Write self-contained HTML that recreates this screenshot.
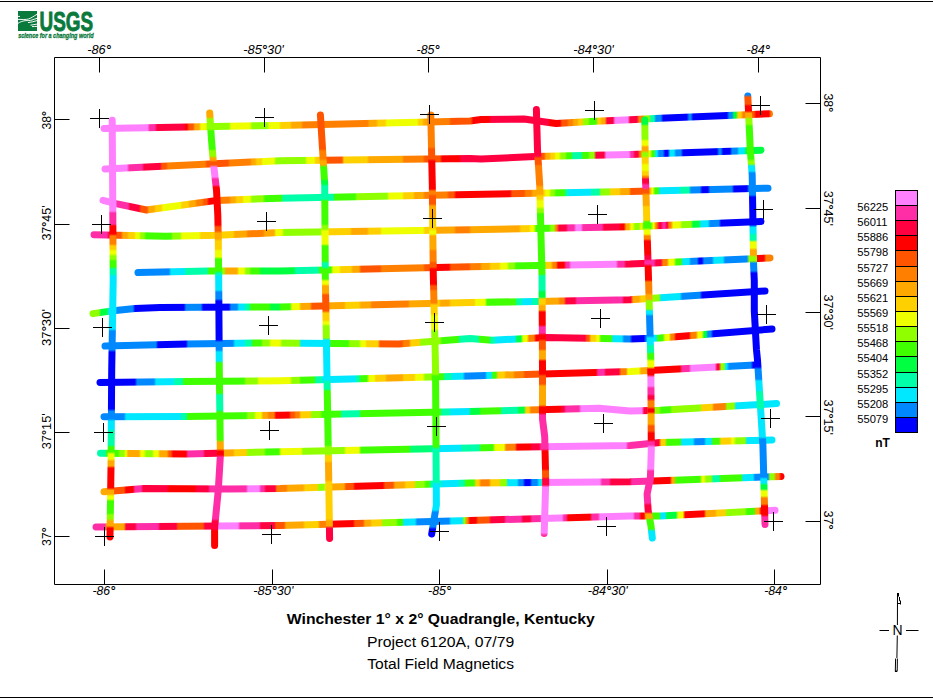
<!DOCTYPE html>
<html><head><meta charset="utf-8"><title>Winchester 1° x 2° Quadrangle, Kentucky - Total Field Magnetics</title>
<style>
html,body{margin:0;padding:0;background:#fff;}
body{width:933px;height:699px;overflow:hidden;}
svg{display:block;}
.ax{font-family:"Liberation Sans",Arial,sans-serif;font-size:12.5px;fill:#000;}
.it{font-style:italic;}
.lg{font-family:"Liberation Sans",Arial,sans-serif;font-size:11.2px;fill:#000;}
.nt{font-family:"Liberation Sans",Arial,sans-serif;font-size:12px;font-weight:bold;fill:#000;}
.t1{font-family:"Liberation Sans",Arial,sans-serif;font-size:15px;font-weight:bold;fill:#000;}
.t2{font-family:"Liberation Sans",Arial,sans-serif;font-size:15.5px;fill:#000;}
.nn{font-family:"Liberation Sans",Arial,sans-serif;font-size:14px;fill:#000;}
</style></head><body>
<svg width="933" height="699" viewBox="0 0 933 699">
<defs><linearGradient id="gH1" gradientUnits="userSpaceOnUse" x1="100.0" y1="0" x2="774.0" y2="0"><stop offset="0.0000" stop-color="#FF80FF"/><stop offset="0.0703" stop-color="#FF80FF"/><stop offset="0.0739" stop-color="#FF2EA6"/><stop offset="0.0813" stop-color="#FF2EA6"/><stop offset="0.0849" stop-color="#FF0040"/><stop offset="0.1243" stop-color="#FF0040"/><stop offset="0.1279" stop-color="#FF0000"/><stop offset="0.1288" stop-color="#FF0000"/><stop offset="0.1323" stop-color="#FF5500"/><stop offset="0.1377" stop-color="#FF5500"/><stop offset="0.1412" stop-color="#FFA800"/><stop offset="0.1466" stop-color="#FFA800"/><stop offset="0.1501" stop-color="#EEFF00"/><stop offset="0.1570" stop-color="#EEFF00"/><stop offset="0.1605" stop-color="#90FF00"/><stop offset="0.1911" stop-color="#90FF00"/><stop offset="0.1947" stop-color="#EEFF00"/><stop offset="0.2223" stop-color="#EEFF00"/><stop offset="0.2258" stop-color="#90FF00"/><stop offset="0.2475" stop-color="#90FF00"/><stop offset="0.2510" stop-color="#EEFF00"/><stop offset="0.2653" stop-color="#EEFF00"/><stop offset="0.2688" stop-color="#FFD000"/><stop offset="0.2816" stop-color="#FFD000"/><stop offset="0.2852" stop-color="#FFA800"/><stop offset="0.2979" stop-color="#FFA800"/><stop offset="0.3015" stop-color="#FF8000"/><stop offset="0.3967" stop-color="#FF8000"/><stop offset="0.4003" stop-color="#FFA800"/><stop offset="0.4092" stop-color="#FFA800"/><stop offset="0.4128" stop-color="#FFD000"/><stop offset="0.4226" stop-color="#FFD000"/><stop offset="0.4261" stop-color="#EEFF00"/><stop offset="0.4700" stop-color="#EEFF00"/><stop offset="0.4736" stop-color="#FFD000"/><stop offset="0.4774" stop-color="#FFD000"/><stop offset="0.4810" stop-color="#FFA800"/><stop offset="0.4849" stop-color="#FFA800"/><stop offset="0.4884" stop-color="#FF8000"/><stop offset="0.5175" stop-color="#FF8000"/><stop offset="0.5211" stop-color="#FF5500"/><stop offset="0.5501" stop-color="#FF5500"/><stop offset="0.5537" stop-color="#FF0000"/><stop offset="0.5769" stop-color="#FF0000"/><stop offset="0.5804" stop-color="#FF0040"/><stop offset="0.6644" stop-color="#FF0040"/><stop offset="0.6680" stop-color="#FF0000"/><stop offset="0.6822" stop-color="#FF0000"/><stop offset="0.6858" stop-color="#FF5500"/><stop offset="0.6926" stop-color="#FF5500"/><stop offset="0.6961" stop-color="#FF8000"/><stop offset="0.7000" stop-color="#FF8000"/><stop offset="0.7036" stop-color="#FFA800"/><stop offset="0.7074" stop-color="#FFA800"/><stop offset="0.7110" stop-color="#FFD000"/><stop offset="0.7148" stop-color="#FFD000"/><stop offset="0.7184" stop-color="#90FF00"/><stop offset="0.7237" stop-color="#90FF00"/><stop offset="0.7273" stop-color="#40FF00"/><stop offset="0.7356" stop-color="#40FF00"/><stop offset="0.7392" stop-color="#FFD000"/><stop offset="0.7415" stop-color="#FFD000"/><stop offset="0.7451" stop-color="#FFA800"/><stop offset="0.7490" stop-color="#FFA800"/><stop offset="0.7525" stop-color="#FF0040"/><stop offset="0.7608" stop-color="#FF0040"/><stop offset="0.7644" stop-color="#FF80FF"/><stop offset="0.7831" stop-color="#FF80FF"/><stop offset="0.7866" stop-color="#FF0040"/><stop offset="0.7964" stop-color="#FF0040"/><stop offset="0.8000" stop-color="#FF8000"/><stop offset="0.8053" stop-color="#FF8000"/><stop offset="0.8089" stop-color="#90FF00"/><stop offset="0.8142" stop-color="#90FF00"/><stop offset="0.8178" stop-color="#00FFA8"/><stop offset="0.8217" stop-color="#00FFA8"/><stop offset="0.8252" stop-color="#0088FF"/><stop offset="0.8320" stop-color="#0088FF"/><stop offset="0.8356" stop-color="#0000FF"/><stop offset="0.8706" stop-color="#0000FF"/><stop offset="0.8742" stop-color="#0088FF"/><stop offset="0.8766" stop-color="#0088FF"/><stop offset="0.8801" stop-color="#0000FF"/><stop offset="0.9300" stop-color="#0000FF"/><stop offset="0.9335" stop-color="#0088FF"/><stop offset="0.9374" stop-color="#0088FF"/><stop offset="0.9409" stop-color="#00FF40"/><stop offset="0.9433" stop-color="#00FF40"/><stop offset="0.9469" stop-color="#FFD000"/><stop offset="0.9507" stop-color="#FFD000"/><stop offset="0.9543" stop-color="#FF8000"/><stop offset="0.9626" stop-color="#FF8000"/><stop offset="0.9662" stop-color="#FF5500"/><stop offset="0.9700" stop-color="#FF5500"/><stop offset="0.9736" stop-color="#FF0000"/><stop offset="0.9923" stop-color="#FF0000"/><stop offset="0.9958" stop-color="#FF8000"/><stop offset="1.0000" stop-color="#FF8000"/></linearGradient><linearGradient id="gH2" gradientUnits="userSpaceOnUse" x1="100.0" y1="0" x2="765.0" y2="0"><stop offset="0.0000" stop-color="#FF80FF"/><stop offset="0.0403" stop-color="#FF80FF"/><stop offset="0.0439" stop-color="#FF2EA6"/><stop offset="0.0629" stop-color="#FF2EA6"/><stop offset="0.0665" stop-color="#FF0040"/><stop offset="0.0899" stop-color="#FF0040"/><stop offset="0.0935" stop-color="#FF5500"/><stop offset="0.0989" stop-color="#FF5500"/><stop offset="0.1026" stop-color="#FF8000"/><stop offset="0.1576" stop-color="#FF8000"/><stop offset="0.1612" stop-color="#FF5500"/><stop offset="0.1922" stop-color="#FF5500"/><stop offset="0.1958" stop-color="#FF8000"/><stop offset="0.2253" stop-color="#FF8000"/><stop offset="0.2289" stop-color="#FFA800"/><stop offset="0.2328" stop-color="#FFA800"/><stop offset="0.2364" stop-color="#FFD000"/><stop offset="0.2418" stop-color="#FFD000"/><stop offset="0.2454" stop-color="#EEFF00"/><stop offset="0.2614" stop-color="#EEFF00"/><stop offset="0.2650" stop-color="#90FF00"/><stop offset="0.3080" stop-color="#90FF00"/><stop offset="0.3116" stop-color="#EEFF00"/><stop offset="0.3215" stop-color="#EEFF00"/><stop offset="0.3251" stop-color="#FFD000"/><stop offset="0.3290" stop-color="#FFD000"/><stop offset="0.3326" stop-color="#FFA800"/><stop offset="0.3365" stop-color="#FFA800"/><stop offset="0.3402" stop-color="#FF5500"/><stop offset="0.3636" stop-color="#FF5500"/><stop offset="0.3672" stop-color="#FFD000"/><stop offset="0.4012" stop-color="#FFD000"/><stop offset="0.4048" stop-color="#FFA800"/><stop offset="0.4538" stop-color="#FFA800"/><stop offset="0.4574" stop-color="#FF8000"/><stop offset="0.4854" stop-color="#FF8000"/><stop offset="0.4890" stop-color="#FF5500"/><stop offset="0.5110" stop-color="#FF5500"/><stop offset="0.5146" stop-color="#FF0000"/><stop offset="0.5395" stop-color="#FF0000"/><stop offset="0.5432" stop-color="#FF0040"/><stop offset="0.6523" stop-color="#FF0040"/><stop offset="0.6559" stop-color="#FF5500"/><stop offset="0.6674" stop-color="#FF5500"/><stop offset="0.6710" stop-color="#FFA800"/><stop offset="0.6749" stop-color="#FFA800"/><stop offset="0.6785" stop-color="#FFD000"/><stop offset="0.6824" stop-color="#FFD000"/><stop offset="0.6860" stop-color="#EEFF00"/><stop offset="0.6899" stop-color="#EEFF00"/><stop offset="0.6935" stop-color="#90FF00"/><stop offset="0.6989" stop-color="#90FF00"/><stop offset="0.7026" stop-color="#40FF00"/><stop offset="0.7080" stop-color="#40FF00"/><stop offset="0.7116" stop-color="#00FFA8"/><stop offset="0.7230" stop-color="#00FFA8"/><stop offset="0.7266" stop-color="#40FF00"/><stop offset="0.7335" stop-color="#40FF00"/><stop offset="0.7371" stop-color="#90FF00"/><stop offset="0.7426" stop-color="#90FF00"/><stop offset="0.7462" stop-color="#FF0040"/><stop offset="0.7576" stop-color="#FF0040"/><stop offset="0.7612" stop-color="#FF80FF"/><stop offset="0.7952" stop-color="#FF80FF"/><stop offset="0.7988" stop-color="#FF2EA6"/><stop offset="0.8012" stop-color="#FF2EA6"/><stop offset="0.8048" stop-color="#FF0040"/><stop offset="0.8087" stop-color="#FF0040"/><stop offset="0.8123" stop-color="#FF8000"/><stop offset="0.8132" stop-color="#FF8000"/><stop offset="0.8168" stop-color="#90FF00"/><stop offset="0.8208" stop-color="#90FF00"/><stop offset="0.8244" stop-color="#EEFF00"/><stop offset="0.8268" stop-color="#EEFF00"/><stop offset="0.8304" stop-color="#40FF00"/><stop offset="0.8328" stop-color="#40FF00"/><stop offset="0.8364" stop-color="#00E8FF"/><stop offset="0.8373" stop-color="#00E8FF"/><stop offset="0.8409" stop-color="#0088FF"/><stop offset="0.8463" stop-color="#0088FF"/><stop offset="0.8499" stop-color="#0000FF"/><stop offset="0.8538" stop-color="#0000FF"/><stop offset="0.8574" stop-color="#00E8FF"/><stop offset="0.8629" stop-color="#00E8FF"/><stop offset="0.8665" stop-color="#0088FF"/><stop offset="0.8734" stop-color="#0088FF"/><stop offset="0.8770" stop-color="#0000FF"/><stop offset="0.9275" stop-color="#0000FF"/><stop offset="0.9311" stop-color="#0088FF"/><stop offset="0.9335" stop-color="#0088FF"/><stop offset="0.9371" stop-color="#0000FF"/><stop offset="0.9471" stop-color="#0000FF"/><stop offset="0.9507" stop-color="#0088FF"/><stop offset="0.9576" stop-color="#0088FF"/><stop offset="0.9612" stop-color="#00E8FF"/><stop offset="0.9681" stop-color="#00E8FF"/><stop offset="0.9717" stop-color="#00FF40"/><stop offset="1.0000" stop-color="#00FF40"/></linearGradient><linearGradient id="gH3" gradientUnits="userSpaceOnUse" x1="99.0" y1="0" x2="772.0" y2="0"><stop offset="0.0000" stop-color="#FF80FF"/><stop offset="0.0235" stop-color="#FF80FF"/><stop offset="0.0270" stop-color="#FF2EA6"/><stop offset="0.0428" stop-color="#FF2EA6"/><stop offset="0.0464" stop-color="#FF0040"/><stop offset="0.0591" stop-color="#FF0040"/><stop offset="0.0627" stop-color="#FF5500"/><stop offset="0.0710" stop-color="#FF5500"/><stop offset="0.0746" stop-color="#FFA800"/><stop offset="0.0814" stop-color="#FFA800"/><stop offset="0.0850" stop-color="#FFD000"/><stop offset="0.0918" stop-color="#FFD000"/><stop offset="0.0954" stop-color="#EEFF00"/><stop offset="0.1201" stop-color="#EEFF00"/><stop offset="0.1236" stop-color="#FFD000"/><stop offset="0.1319" stop-color="#FFD000"/><stop offset="0.1355" stop-color="#FFA800"/><stop offset="0.1423" stop-color="#FFA800"/><stop offset="0.1459" stop-color="#FF8000"/><stop offset="0.1527" stop-color="#FF8000"/><stop offset="0.1563" stop-color="#FF5500"/><stop offset="0.1602" stop-color="#FF5500"/><stop offset="0.1637" stop-color="#FF0000"/><stop offset="0.1736" stop-color="#FF0000"/><stop offset="0.1771" stop-color="#FF8000"/><stop offset="0.1929" stop-color="#FF8000"/><stop offset="0.1964" stop-color="#FFA800"/><stop offset="0.2018" stop-color="#FFA800"/><stop offset="0.2053" stop-color="#FFD000"/><stop offset="0.2122" stop-color="#FFD000"/><stop offset="0.2158" stop-color="#EEFF00"/><stop offset="0.2241" stop-color="#EEFF00"/><stop offset="0.2276" stop-color="#90FF00"/><stop offset="0.2434" stop-color="#90FF00"/><stop offset="0.2470" stop-color="#40FF00"/><stop offset="0.2701" stop-color="#40FF00"/><stop offset="0.2737" stop-color="#00FFA8"/><stop offset="0.3474" stop-color="#00FFA8"/><stop offset="0.3510" stop-color="#40FF00"/><stop offset="0.3801" stop-color="#40FF00"/><stop offset="0.3837" stop-color="#90FF00"/><stop offset="0.4276" stop-color="#90FF00"/><stop offset="0.4312" stop-color="#EEFF00"/><stop offset="0.4499" stop-color="#EEFF00"/><stop offset="0.4535" stop-color="#FFD000"/><stop offset="0.4663" stop-color="#FFD000"/><stop offset="0.4698" stop-color="#FFA800"/><stop offset="0.4811" stop-color="#FFA800"/><stop offset="0.4847" stop-color="#FF8000"/><stop offset="0.5168" stop-color="#FF8000"/><stop offset="0.5204" stop-color="#FF5500"/><stop offset="0.5272" stop-color="#FF5500"/><stop offset="0.5308" stop-color="#FF0000"/><stop offset="0.6104" stop-color="#FF0000"/><stop offset="0.6140" stop-color="#FF5500"/><stop offset="0.6312" stop-color="#FF5500"/><stop offset="0.6348" stop-color="#FF8000"/><stop offset="0.6416" stop-color="#FF8000"/><stop offset="0.6452" stop-color="#FFA800"/><stop offset="0.6520" stop-color="#FFA800"/><stop offset="0.6556" stop-color="#FFD000"/><stop offset="0.6609" stop-color="#FFD000"/><stop offset="0.6645" stop-color="#EEFF00"/><stop offset="0.6684" stop-color="#EEFF00"/><stop offset="0.6719" stop-color="#90FF00"/><stop offset="0.6758" stop-color="#90FF00"/><stop offset="0.6793" stop-color="#40FF00"/><stop offset="0.6906" stop-color="#40FF00"/><stop offset="0.6942" stop-color="#00FFA8"/><stop offset="0.6951" stop-color="#00FFA8"/><stop offset="0.6987" stop-color="#00E8FF"/><stop offset="0.7293" stop-color="#00E8FF"/><stop offset="0.7328" stop-color="#00FFA8"/><stop offset="0.7426" stop-color="#00FFA8"/><stop offset="0.7462" stop-color="#90FF00"/><stop offset="0.7575" stop-color="#90FF00"/><stop offset="0.7611" stop-color="#FFD000"/><stop offset="0.7724" stop-color="#FFD000"/><stop offset="0.7759" stop-color="#FFA800"/><stop offset="0.7872" stop-color="#FFA800"/><stop offset="0.7908" stop-color="#FF5500"/><stop offset="0.8095" stop-color="#FF5500"/><stop offset="0.8131" stop-color="#FFA800"/><stop offset="0.8184" stop-color="#FFA800"/><stop offset="0.8220" stop-color="#EEFF00"/><stop offset="0.8229" stop-color="#EEFF00"/><stop offset="0.8264" stop-color="#40FF00"/><stop offset="0.8303" stop-color="#40FF00"/><stop offset="0.8339" stop-color="#00E8FF"/><stop offset="0.8615" stop-color="#00E8FF"/><stop offset="0.8651" stop-color="#00FFA8"/><stop offset="0.8764" stop-color="#00FFA8"/><stop offset="0.8799" stop-color="#0088FF"/><stop offset="0.8927" stop-color="#0088FF"/><stop offset="0.8963" stop-color="#0000FF"/><stop offset="0.9046" stop-color="#0000FF"/><stop offset="0.9082" stop-color="#0088FF"/><stop offset="0.9403" stop-color="#0088FF"/><stop offset="0.9438" stop-color="#0000FF"/><stop offset="0.9626" stop-color="#0000FF"/><stop offset="0.9661" stop-color="#0088FF"/><stop offset="1.0000" stop-color="#0088FF"/></linearGradient><linearGradient id="gH4" gradientUnits="userSpaceOnUse" x1="90.0" y1="0" x2="765.0" y2="0"><stop offset="0.0000" stop-color="#FF2EA6"/><stop offset="0.0249" stop-color="#FF2EA6"/><stop offset="0.0284" stop-color="#FF0040"/><stop offset="0.0367" stop-color="#FF0040"/><stop offset="0.0403" stop-color="#FF5500"/><stop offset="0.0456" stop-color="#FF5500"/><stop offset="0.0492" stop-color="#FFA800"/><stop offset="0.0545" stop-color="#FFA800"/><stop offset="0.0581" stop-color="#FFD000"/><stop offset="0.0649" stop-color="#FFD000"/><stop offset="0.0684" stop-color="#EEFF00"/><stop offset="0.0723" stop-color="#EEFF00"/><stop offset="0.0759" stop-color="#90FF00"/><stop offset="0.0797" stop-color="#90FF00"/><stop offset="0.0833" stop-color="#40FF00"/><stop offset="0.1197" stop-color="#40FF00"/><stop offset="0.1233" stop-color="#90FF00"/><stop offset="0.1330" stop-color="#90FF00"/><stop offset="0.1366" stop-color="#EEFF00"/><stop offset="0.1612" stop-color="#EEFF00"/><stop offset="0.1647" stop-color="#FFD000"/><stop offset="0.1864" stop-color="#FFD000"/><stop offset="0.1899" stop-color="#FFD000"/><stop offset="0.2116" stop-color="#FFD000"/><stop offset="0.2151" stop-color="#FFA800"/><stop offset="0.2308" stop-color="#FFA800"/><stop offset="0.2344" stop-color="#FF8000"/><stop offset="0.2560" stop-color="#FF8000"/><stop offset="0.2596" stop-color="#FFA800"/><stop offset="0.2723" stop-color="#FFA800"/><stop offset="0.2759" stop-color="#EEFF00"/><stop offset="0.2841" stop-color="#EEFF00"/><stop offset="0.2877" stop-color="#90FF00"/><stop offset="0.3419" stop-color="#90FF00"/><stop offset="0.3455" stop-color="#EEFF00"/><stop offset="0.3508" stop-color="#EEFF00"/><stop offset="0.3544" stop-color="#FFD000"/><stop offset="0.3849" stop-color="#FFD000"/><stop offset="0.3884" stop-color="#FFA800"/><stop offset="0.4101" stop-color="#FFA800"/><stop offset="0.4136" stop-color="#FFD000"/><stop offset="0.4293" stop-color="#FFD000"/><stop offset="0.4329" stop-color="#EEFF00"/><stop offset="0.4930" stop-color="#EEFF00"/><stop offset="0.4966" stop-color="#FFD000"/><stop offset="0.5093" stop-color="#FFD000"/><stop offset="0.5129" stop-color="#FFA800"/><stop offset="0.5390" stop-color="#FFA800"/><stop offset="0.5425" stop-color="#FF8000"/><stop offset="0.5612" stop-color="#FF8000"/><stop offset="0.5647" stop-color="#FFA800"/><stop offset="0.6353" stop-color="#FFA800"/><stop offset="0.6388" stop-color="#FFD000"/><stop offset="0.6501" stop-color="#FFD000"/><stop offset="0.6536" stop-color="#EEFF00"/><stop offset="0.6575" stop-color="#EEFF00"/><stop offset="0.6610" stop-color="#40FF00"/><stop offset="0.6797" stop-color="#40FF00"/><stop offset="0.6833" stop-color="#90FF00"/><stop offset="0.6871" stop-color="#90FF00"/><stop offset="0.6907" stop-color="#FF8000"/><stop offset="0.6916" stop-color="#FF8000"/><stop offset="0.6951" stop-color="#FF0040"/><stop offset="0.7049" stop-color="#FF0040"/><stop offset="0.7084" stop-color="#FF2EA6"/><stop offset="0.7167" stop-color="#FF2EA6"/><stop offset="0.7203" stop-color="#FF80FF"/><stop offset="0.7271" stop-color="#FF80FF"/><stop offset="0.7307" stop-color="#FF2EA6"/><stop offset="0.7582" stop-color="#FF2EA6"/><stop offset="0.7618" stop-color="#FF0040"/><stop offset="0.7834" stop-color="#FF0040"/><stop offset="0.7870" stop-color="#FF0000"/><stop offset="0.7908" stop-color="#FF0000"/><stop offset="0.7944" stop-color="#FFA800"/><stop offset="0.7982" stop-color="#FFA800"/><stop offset="0.8018" stop-color="#EEFF00"/><stop offset="0.8041" stop-color="#EEFF00"/><stop offset="0.8077" stop-color="#90FF00"/><stop offset="0.8130" stop-color="#90FF00"/><stop offset="0.8166" stop-color="#EEFF00"/><stop offset="0.8175" stop-color="#EEFF00"/><stop offset="0.8210" stop-color="#40FF00"/><stop offset="0.8308" stop-color="#40FF00"/><stop offset="0.8344" stop-color="#EEFF00"/><stop offset="0.8353" stop-color="#EEFF00"/><stop offset="0.8388" stop-color="#FF8000"/><stop offset="0.8397" stop-color="#FF8000"/><stop offset="0.8433" stop-color="#FF0040"/><stop offset="0.8456" stop-color="#FF0040"/><stop offset="0.8492" stop-color="#FF2EA6"/><stop offset="0.8516" stop-color="#FF2EA6"/><stop offset="0.8545" stop-color="#FF0040"/><stop offset="0.8551" stop-color="#FF0040"/><stop offset="0.8581" stop-color="#FF8000"/><stop offset="0.8604" stop-color="#FF8000"/><stop offset="0.8640" stop-color="#EEFF00"/><stop offset="0.8738" stop-color="#EEFF00"/><stop offset="0.8773" stop-color="#90FF00"/><stop offset="0.8901" stop-color="#90FF00"/><stop offset="0.8936" stop-color="#00FF40"/><stop offset="0.9019" stop-color="#00FF40"/><stop offset="0.9055" stop-color="#00E8FF"/><stop offset="0.9153" stop-color="#00E8FF"/><stop offset="0.9188" stop-color="#0088FF"/><stop offset="0.9316" stop-color="#0088FF"/><stop offset="0.9351" stop-color="#0000FF"/><stop offset="1.0000" stop-color="#0000FF"/></linearGradient><linearGradient id="gH5" gradientUnits="userSpaceOnUse" x1="134.0" y1="0" x2="774.0" y2="0"><stop offset="0.0000" stop-color="#0088FF"/><stop offset="0.0544" stop-color="#0088FF"/><stop offset="0.0581" stop-color="#00E8FF"/><stop offset="0.0778" stop-color="#00E8FF"/><stop offset="0.0816" stop-color="#00FFA8"/><stop offset="0.1138" stop-color="#00FFA8"/><stop offset="0.1175" stop-color="#40FF00"/><stop offset="0.1325" stop-color="#40FF00"/><stop offset="0.1362" stop-color="#90FF00"/><stop offset="0.1403" stop-color="#90FF00"/><stop offset="0.1441" stop-color="#FFA800"/><stop offset="0.1606" stop-color="#FFA800"/><stop offset="0.1644" stop-color="#EEFF00"/><stop offset="0.1716" stop-color="#EEFF00"/><stop offset="0.1753" stop-color="#90FF00"/><stop offset="0.1794" stop-color="#90FF00"/><stop offset="0.1831" stop-color="#40FF00"/><stop offset="0.1950" stop-color="#40FF00"/><stop offset="0.1987" stop-color="#00FF40"/><stop offset="0.2497" stop-color="#00FF40"/><stop offset="0.2534" stop-color="#00FFA8"/><stop offset="0.2872" stop-color="#00FFA8"/><stop offset="0.2909" stop-color="#40FF00"/><stop offset="0.3075" stop-color="#40FF00"/><stop offset="0.3112" stop-color="#EEFF00"/><stop offset="0.3200" stop-color="#EEFF00"/><stop offset="0.3237" stop-color="#FFD000"/><stop offset="0.3387" stop-color="#FFD000"/><stop offset="0.3425" stop-color="#FFA800"/><stop offset="0.3513" stop-color="#FFA800"/><stop offset="0.3550" stop-color="#FF5500"/><stop offset="0.3841" stop-color="#FF5500"/><stop offset="0.3878" stop-color="#FF8000"/><stop offset="0.4184" stop-color="#FF8000"/><stop offset="0.4222" stop-color="#FF8000"/><stop offset="0.4513" stop-color="#FF8000"/><stop offset="0.4550" stop-color="#FF5500"/><stop offset="0.4684" stop-color="#FF5500"/><stop offset="0.4722" stop-color="#FF0000"/><stop offset="0.4919" stop-color="#FF0000"/><stop offset="0.4956" stop-color="#FF5500"/><stop offset="0.5231" stop-color="#FF5500"/><stop offset="0.5269" stop-color="#FF8000"/><stop offset="0.5403" stop-color="#FF8000"/><stop offset="0.5441" stop-color="#FFA800"/><stop offset="0.5544" stop-color="#FFA800"/><stop offset="0.5581" stop-color="#FFD000"/><stop offset="0.5700" stop-color="#FFD000"/><stop offset="0.5737" stop-color="#EEFF00"/><stop offset="0.5825" stop-color="#EEFF00"/><stop offset="0.5862" stop-color="#90FF00"/><stop offset="0.5934" stop-color="#90FF00"/><stop offset="0.5972" stop-color="#40FF00"/><stop offset="0.6403" stop-color="#40FF00"/><stop offset="0.6441" stop-color="#FFD000"/><stop offset="0.6512" stop-color="#FFD000"/><stop offset="0.6550" stop-color="#FF8000"/><stop offset="0.6591" stop-color="#FF8000"/><stop offset="0.6628" stop-color="#FF0000"/><stop offset="0.6716" stop-color="#FF0000"/><stop offset="0.6753" stop-color="#FF2EA6"/><stop offset="0.6794" stop-color="#FF2EA6"/><stop offset="0.6831" stop-color="#FF80FF"/><stop offset="0.7528" stop-color="#FF80FF"/><stop offset="0.7566" stop-color="#FF2EA6"/><stop offset="0.7653" stop-color="#FF2EA6"/><stop offset="0.7691" stop-color="#FF0040"/><stop offset="0.7966" stop-color="#FF0040"/><stop offset="0.8003" stop-color="#FF2EA6"/><stop offset="0.8122" stop-color="#FF2EA6"/><stop offset="0.8159" stop-color="#FF0040"/><stop offset="0.8231" stop-color="#FF0040"/><stop offset="0.8269" stop-color="#FF8000"/><stop offset="0.8325" stop-color="#FF8000"/><stop offset="0.8363" stop-color="#EEFF00"/><stop offset="0.8434" stop-color="#EEFF00"/><stop offset="0.8472" stop-color="#40FF00"/><stop offset="0.8544" stop-color="#40FF00"/><stop offset="0.8581" stop-color="#00E8FF"/><stop offset="0.8669" stop-color="#00E8FF"/><stop offset="0.8706" stop-color="#0088FF"/><stop offset="0.8794" stop-color="#0088FF"/><stop offset="0.8831" stop-color="#0000FF"/><stop offset="0.8872" stop-color="#0000FF"/><stop offset="0.8909" stop-color="#0088FF"/><stop offset="0.9028" stop-color="#0088FF"/><stop offset="0.9066" stop-color="#00E8FF"/><stop offset="0.9200" stop-color="#00E8FF"/><stop offset="0.9238" stop-color="#0088FF"/><stop offset="0.9575" stop-color="#0088FF"/><stop offset="0.9613" stop-color="#90FF00"/><stop offset="0.9684" stop-color="#90FF00"/><stop offset="0.9722" stop-color="#FF0000"/><stop offset="0.9841" stop-color="#FF0000"/><stop offset="0.9878" stop-color="#FF8000"/><stop offset="1.0000" stop-color="#FF8000"/></linearGradient><linearGradient id="gH6" gradientUnits="userSpaceOnUse" x1="89.0" y1="0" x2="769.0" y2="0"><stop offset="0.0000" stop-color="#90FF00"/><stop offset="0.0144" stop-color="#90FF00"/><stop offset="0.0179" stop-color="#00FF40"/><stop offset="0.0262" stop-color="#00FF40"/><stop offset="0.0297" stop-color="#00E8FF"/><stop offset="0.0379" stop-color="#00E8FF"/><stop offset="0.0415" stop-color="#0088FF"/><stop offset="0.0644" stop-color="#0088FF"/><stop offset="0.0679" stop-color="#0000FF"/><stop offset="0.1394" stop-color="#0000FF"/><stop offset="0.1429" stop-color="#0088FF"/><stop offset="0.1644" stop-color="#0088FF"/><stop offset="0.1679" stop-color="#0000FF"/><stop offset="0.2056" stop-color="#0000FF"/><stop offset="0.2091" stop-color="#0088FF"/><stop offset="0.2174" stop-color="#0088FF"/><stop offset="0.2209" stop-color="#00E8FF"/><stop offset="0.2276" stop-color="#00E8FF"/><stop offset="0.2312" stop-color="#00FFA8"/><stop offset="0.2350" stop-color="#00FFA8"/><stop offset="0.2385" stop-color="#40FF00"/><stop offset="0.2644" stop-color="#40FF00"/><stop offset="0.2679" stop-color="#00FF40"/><stop offset="0.2791" stop-color="#00FF40"/><stop offset="0.2826" stop-color="#40FF00"/><stop offset="0.2953" stop-color="#40FF00"/><stop offset="0.2988" stop-color="#EEFF00"/><stop offset="0.3085" stop-color="#EEFF00"/><stop offset="0.3121" stop-color="#FFA800"/><stop offset="0.3247" stop-color="#FFA800"/><stop offset="0.3282" stop-color="#FF5500"/><stop offset="0.3497" stop-color="#FF5500"/><stop offset="0.3532" stop-color="#FFA800"/><stop offset="0.3747" stop-color="#FFA800"/><stop offset="0.3782" stop-color="#FFD000"/><stop offset="0.3968" stop-color="#FFD000"/><stop offset="0.4003" stop-color="#FFA800"/><stop offset="0.4129" stop-color="#FFA800"/><stop offset="0.4165" stop-color="#FF8000"/><stop offset="0.4688" stop-color="#FF8000"/><stop offset="0.4724" stop-color="#FFA800"/><stop offset="0.5012" stop-color="#FFA800"/><stop offset="0.5047" stop-color="#FFD000"/><stop offset="0.5144" stop-color="#FFD000"/><stop offset="0.5179" stop-color="#FFA800"/><stop offset="0.5291" stop-color="#FFA800"/><stop offset="0.5326" stop-color="#FFD000"/><stop offset="0.5585" stop-color="#FFD000"/><stop offset="0.5621" stop-color="#FFD000"/><stop offset="0.5659" stop-color="#FFD000"/><stop offset="0.5694" stop-color="#EEFF00"/><stop offset="0.5821" stop-color="#EEFF00"/><stop offset="0.5856" stop-color="#40FF00"/><stop offset="0.6262" stop-color="#40FF00"/><stop offset="0.6297" stop-color="#00FFA8"/><stop offset="0.6350" stop-color="#00FFA8"/><stop offset="0.6385" stop-color="#00E8FF"/><stop offset="0.6497" stop-color="#00E8FF"/><stop offset="0.6532" stop-color="#00FFA8"/><stop offset="0.6615" stop-color="#00FFA8"/><stop offset="0.6650" stop-color="#FFD000"/><stop offset="0.6688" stop-color="#FFD000"/><stop offset="0.6724" stop-color="#FFA800"/><stop offset="0.6894" stop-color="#FFA800"/><stop offset="0.6929" stop-color="#FF8000"/><stop offset="0.6982" stop-color="#FF8000"/><stop offset="0.7018" stop-color="#FF0040"/><stop offset="0.7144" stop-color="#FF0040"/><stop offset="0.7179" stop-color="#FF2EA6"/><stop offset="0.7835" stop-color="#FF2EA6"/><stop offset="0.7871" stop-color="#FF0040"/><stop offset="0.7968" stop-color="#FF0040"/><stop offset="0.8003" stop-color="#FFA800"/><stop offset="0.8085" stop-color="#FFA800"/><stop offset="0.8121" stop-color="#FFD000"/><stop offset="0.8203" stop-color="#FFD000"/><stop offset="0.8238" stop-color="#EEFF00"/><stop offset="0.8262" stop-color="#EEFF00"/><stop offset="0.8297" stop-color="#90FF00"/><stop offset="0.8379" stop-color="#90FF00"/><stop offset="0.8415" stop-color="#00E8FF"/><stop offset="0.8688" stop-color="#00E8FF"/><stop offset="0.8724" stop-color="#0088FF"/><stop offset="0.8982" stop-color="#0088FF"/><stop offset="0.9018" stop-color="#0000FF"/><stop offset="1.0000" stop-color="#0000FF"/></linearGradient><linearGradient id="gH7" gradientUnits="userSpaceOnUse" x1="101.0" y1="0" x2="776.0" y2="0"><stop offset="0.0000" stop-color="#0088FF"/><stop offset="0.0812" stop-color="#0088FF"/><stop offset="0.0847" stop-color="#0000FF"/><stop offset="0.1256" stop-color="#0000FF"/><stop offset="0.1292" stop-color="#0088FF"/><stop offset="0.1953" stop-color="#0088FF"/><stop offset="0.1988" stop-color="#00E8FF"/><stop offset="0.2116" stop-color="#00E8FF"/><stop offset="0.2151" stop-color="#00FFA8"/><stop offset="0.2219" stop-color="#00FFA8"/><stop offset="0.2255" stop-color="#40FF00"/><stop offset="0.2367" stop-color="#40FF00"/><stop offset="0.2403" stop-color="#90FF00"/><stop offset="0.2486" stop-color="#90FF00"/><stop offset="0.2521" stop-color="#EEFF00"/><stop offset="0.2649" stop-color="#EEFF00"/><stop offset="0.2684" stop-color="#90FF00"/><stop offset="0.2930" stop-color="#90FF00"/><stop offset="0.2966" stop-color="#00E8FF"/><stop offset="0.3375" stop-color="#00E8FF"/><stop offset="0.3410" stop-color="#40FF00"/><stop offset="0.3656" stop-color="#40FF00"/><stop offset="0.3692" stop-color="#90FF00"/><stop offset="0.3819" stop-color="#90FF00"/><stop offset="0.3855" stop-color="#EEFF00"/><stop offset="0.3908" stop-color="#EEFF00"/><stop offset="0.3944" stop-color="#FFD000"/><stop offset="0.4101" stop-color="#FFD000"/><stop offset="0.4136" stop-color="#FF5500"/><stop offset="0.4456" stop-color="#FF5500"/><stop offset="0.4492" stop-color="#FF8000"/><stop offset="0.4560" stop-color="#FF8000"/><stop offset="0.4596" stop-color="#FFD000"/><stop offset="0.4708" stop-color="#FFD000"/><stop offset="0.4744" stop-color="#90FF00"/><stop offset="0.5019" stop-color="#90FF00"/><stop offset="0.5055" stop-color="#40FF00"/><stop offset="0.5286" stop-color="#40FF00"/><stop offset="0.5321" stop-color="#00FFA8"/><stop offset="0.5449" stop-color="#00FFA8"/><stop offset="0.5484" stop-color="#00FFA8"/><stop offset="0.5582" stop-color="#00FFA8"/><stop offset="0.5618" stop-color="#40FF00"/><stop offset="0.5745" stop-color="#40FF00"/><stop offset="0.5781" stop-color="#00FFA8"/><stop offset="0.5819" stop-color="#00FFA8"/><stop offset="0.5855" stop-color="#00E8FF"/><stop offset="0.6130" stop-color="#00E8FF"/><stop offset="0.6166" stop-color="#00FF40"/><stop offset="0.6219" stop-color="#00FF40"/><stop offset="0.6255" stop-color="#EEFF00"/><stop offset="0.6308" stop-color="#EEFF00"/><stop offset="0.6344" stop-color="#FF8000"/><stop offset="0.6412" stop-color="#FF8000"/><stop offset="0.6447" stop-color="#FF0000"/><stop offset="0.6560" stop-color="#FF0000"/><stop offset="0.6596" stop-color="#FF0040"/><stop offset="0.7167" stop-color="#FF0040"/><stop offset="0.7203" stop-color="#FF5500"/><stop offset="0.7227" stop-color="#FF5500"/><stop offset="0.7262" stop-color="#FFD000"/><stop offset="0.7316" stop-color="#FFD000"/><stop offset="0.7351" stop-color="#EEFF00"/><stop offset="0.7375" stop-color="#EEFF00"/><stop offset="0.7410" stop-color="#40FF00"/><stop offset="0.7553" stop-color="#40FF00"/><stop offset="0.7588" stop-color="#00E8FF"/><stop offset="0.7716" stop-color="#00E8FF"/><stop offset="0.7751" stop-color="#0088FF"/><stop offset="0.7834" stop-color="#0088FF"/><stop offset="0.7870" stop-color="#0000FF"/><stop offset="0.8041" stop-color="#0000FF"/><stop offset="0.8077" stop-color="#0088FF"/><stop offset="0.8145" stop-color="#0088FF"/><stop offset="0.8181" stop-color="#00E8FF"/><stop offset="0.8219" stop-color="#00E8FF"/><stop offset="0.8255" stop-color="#40FF00"/><stop offset="0.8323" stop-color="#40FF00"/><stop offset="0.8359" stop-color="#EEFF00"/><stop offset="0.8412" stop-color="#EEFF00"/><stop offset="0.8447" stop-color="#FF8000"/><stop offset="0.8486" stop-color="#FF8000"/><stop offset="0.8521" stop-color="#FF0000"/><stop offset="0.8708" stop-color="#FF0000"/><stop offset="0.8744" stop-color="#FF8000"/><stop offset="0.8812" stop-color="#FF8000"/><stop offset="0.8847" stop-color="#EEFF00"/><stop offset="0.8901" stop-color="#EEFF00"/><stop offset="0.8936" stop-color="#00FF40"/><stop offset="0.8960" stop-color="#00FF40"/><stop offset="0.8996" stop-color="#0088FF"/><stop offset="0.9034" stop-color="#0088FF"/><stop offset="0.9070" stop-color="#0000FF"/><stop offset="1.0000" stop-color="#0000FF"/></linearGradient><linearGradient id="gH8" gradientUnits="userSpaceOnUse" x1="96.0" y1="0" x2="759.0" y2="0"><stop offset="0.0000" stop-color="#0000FF"/><stop offset="0.0585" stop-color="#0000FF"/><stop offset="0.0621" stop-color="#0088FF"/><stop offset="0.0872" stop-color="#0088FF"/><stop offset="0.0908" stop-color="#00E8FF"/><stop offset="0.1158" stop-color="#00E8FF"/><stop offset="0.1195" stop-color="#00FFA8"/><stop offset="0.1294" stop-color="#00FFA8"/><stop offset="0.1330" stop-color="#40FF00"/><stop offset="0.2229" stop-color="#40FF00"/><stop offset="0.2265" stop-color="#90FF00"/><stop offset="0.2425" stop-color="#90FF00"/><stop offset="0.2462" stop-color="#EEFF00"/><stop offset="0.2923" stop-color="#EEFF00"/><stop offset="0.2959" stop-color="#90FF00"/><stop offset="0.3059" stop-color="#90FF00"/><stop offset="0.3095" stop-color="#40FF00"/><stop offset="0.3285" stop-color="#40FF00"/><stop offset="0.3321" stop-color="#00FFA8"/><stop offset="0.3391" stop-color="#00FFA8"/><stop offset="0.3427" stop-color="#00E8FF"/><stop offset="0.3903" stop-color="#00E8FF"/><stop offset="0.3940" stop-color="#00FFA8"/><stop offset="0.3964" stop-color="#00FFA8"/><stop offset="0.4000" stop-color="#40FF00"/><stop offset="0.4084" stop-color="#40FF00"/><stop offset="0.4121" stop-color="#EEFF00"/><stop offset="0.4190" stop-color="#EEFF00"/><stop offset="0.4226" stop-color="#FFD000"/><stop offset="0.4356" stop-color="#FFD000"/><stop offset="0.4392" stop-color="#FFA800"/><stop offset="0.4612" stop-color="#FFA800"/><stop offset="0.4649" stop-color="#FFD000"/><stop offset="0.4793" stop-color="#FFD000"/><stop offset="0.4830" stop-color="#EEFF00"/><stop offset="0.4929" stop-color="#EEFF00"/><stop offset="0.4965" stop-color="#90FF00"/><stop offset="0.5050" stop-color="#90FF00"/><stop offset="0.5086" stop-color="#40FF00"/><stop offset="0.5231" stop-color="#40FF00"/><stop offset="0.5267" stop-color="#00FFA8"/><stop offset="0.5351" stop-color="#00FFA8"/><stop offset="0.5388" stop-color="#00E8FF"/><stop offset="0.5532" stop-color="#00E8FF"/><stop offset="0.5569" stop-color="#0088FF"/><stop offset="0.5864" stop-color="#0088FF"/><stop offset="0.5900" stop-color="#00E8FF"/><stop offset="0.5955" stop-color="#00E8FF"/><stop offset="0.5991" stop-color="#40FF00"/><stop offset="0.6030" stop-color="#40FF00"/><stop offset="0.6066" stop-color="#FFD000"/><stop offset="0.6151" stop-color="#FFD000"/><stop offset="0.6187" stop-color="#FFA800"/><stop offset="0.6287" stop-color="#FFA800"/><stop offset="0.6323" stop-color="#FF8000"/><stop offset="0.6437" stop-color="#FF8000"/><stop offset="0.6474" stop-color="#FF5500"/><stop offset="0.6679" stop-color="#FF5500"/><stop offset="0.6715" stop-color="#FF0000"/><stop offset="0.7538" stop-color="#FF0000"/><stop offset="0.7575" stop-color="#FF2EA6"/><stop offset="0.7659" stop-color="#FF2EA6"/><stop offset="0.7695" stop-color="#FF0040"/><stop offset="0.7885" stop-color="#FF0040"/><stop offset="0.7922" stop-color="#FF8000"/><stop offset="0.7991" stop-color="#FF8000"/><stop offset="0.8027" stop-color="#EEFF00"/><stop offset="0.8187" stop-color="#EEFF00"/><stop offset="0.8223" stop-color="#FFA800"/><stop offset="0.8308" stop-color="#FFA800"/><stop offset="0.8344" stop-color="#FF0000"/><stop offset="0.8368" stop-color="#FF0000"/><stop offset="0.8404" stop-color="#FF0000"/><stop offset="0.8805" stop-color="#FF0000"/><stop offset="0.8842" stop-color="#FF2EA6"/><stop offset="0.8941" stop-color="#FF2EA6"/><stop offset="0.8977" stop-color="#FF80FF"/><stop offset="0.9333" stop-color="#FF80FF"/><stop offset="0.9370" stop-color="#FF0040"/><stop offset="0.9394" stop-color="#FF0040"/><stop offset="0.9430" stop-color="#90FF00"/><stop offset="0.9469" stop-color="#90FF00"/><stop offset="0.9505" stop-color="#00E8FF"/><stop offset="0.9514" stop-color="#00E8FF"/><stop offset="0.9551" stop-color="#0088FF"/><stop offset="0.9876" stop-color="#0088FF"/><stop offset="0.9913" stop-color="#0000FF"/><stop offset="1.0000" stop-color="#0000FF"/></linearGradient><linearGradient id="gH9" gradientUnits="userSpaceOnUse" x1="100.0" y1="0" x2="781.0" y2="0"><stop offset="0.0000" stop-color="#0088FF"/><stop offset="0.0349" stop-color="#0088FF"/><stop offset="0.0385" stop-color="#00E8FF"/><stop offset="0.1172" stop-color="#00E8FF"/><stop offset="0.1207" stop-color="#00FFA8"/><stop offset="0.1260" stop-color="#00FFA8"/><stop offset="0.1295" stop-color="#40FF00"/><stop offset="0.2141" stop-color="#40FF00"/><stop offset="0.2176" stop-color="#90FF00"/><stop offset="0.2258" stop-color="#90FF00"/><stop offset="0.2294" stop-color="#EEFF00"/><stop offset="0.2361" stop-color="#EEFF00"/><stop offset="0.2396" stop-color="#FFA800"/><stop offset="0.2449" stop-color="#FFA800"/><stop offset="0.2485" stop-color="#FF8000"/><stop offset="0.2552" stop-color="#FF8000"/><stop offset="0.2587" stop-color="#FF0000"/><stop offset="0.2772" stop-color="#FF0000"/><stop offset="0.2808" stop-color="#FF5500"/><stop offset="0.2846" stop-color="#FF5500"/><stop offset="0.2881" stop-color="#FF8000"/><stop offset="0.2919" stop-color="#FF8000"/><stop offset="0.2954" stop-color="#FFD000"/><stop offset="0.3081" stop-color="#FFD000"/><stop offset="0.3116" stop-color="#90FF00"/><stop offset="0.3228" stop-color="#90FF00"/><stop offset="0.3263" stop-color="#40FF00"/><stop offset="0.3521" stop-color="#40FF00"/><stop offset="0.3557" stop-color="#00FFA8"/><stop offset="0.3800" stop-color="#00FFA8"/><stop offset="0.3836" stop-color="#40FF00"/><stop offset="0.4990" stop-color="#40FF00"/><stop offset="0.5025" stop-color="#00FFA8"/><stop offset="0.5122" stop-color="#00FFA8"/><stop offset="0.5157" stop-color="#00E8FF"/><stop offset="0.5416" stop-color="#00E8FF"/><stop offset="0.5451" stop-color="#00FF40"/><stop offset="0.5562" stop-color="#00FF40"/><stop offset="0.5598" stop-color="#40FF00"/><stop offset="0.5871" stop-color="#40FF00"/><stop offset="0.5906" stop-color="#00FFA8"/><stop offset="0.6120" stop-color="#00FFA8"/><stop offset="0.6156" stop-color="#00FF40"/><stop offset="0.6223" stop-color="#00FF40"/><stop offset="0.6258" stop-color="#FFD000"/><stop offset="0.6297" stop-color="#FFD000"/><stop offset="0.6332" stop-color="#FF8000"/><stop offset="0.6458" stop-color="#FF8000"/><stop offset="0.6493" stop-color="#FF0000"/><stop offset="0.6752" stop-color="#FF0000"/><stop offset="0.6787" stop-color="#FF0040"/><stop offset="0.6811" stop-color="#FF0040"/><stop offset="0.6846" stop-color="#FF2EA6"/><stop offset="0.7031" stop-color="#FF2EA6"/><stop offset="0.7066" stop-color="#FF80FF"/><stop offset="0.7956" stop-color="#FF80FF"/><stop offset="0.7991" stop-color="#FF0040"/><stop offset="0.8029" stop-color="#FF0040"/><stop offset="0.8065" stop-color="#FFA800"/><stop offset="0.8088" stop-color="#FFA800"/><stop offset="0.8123" stop-color="#90FF00"/><stop offset="0.8206" stop-color="#90FF00"/><stop offset="0.8241" stop-color="#40FF00"/><stop offset="0.8367" stop-color="#40FF00"/><stop offset="0.8402" stop-color="#90FF00"/><stop offset="0.8808" stop-color="#90FF00"/><stop offset="0.8843" stop-color="#FFD000"/><stop offset="0.8984" stop-color="#FFD000"/><stop offset="0.9019" stop-color="#FF8000"/><stop offset="0.9175" stop-color="#FF8000"/><stop offset="0.9210" stop-color="#90FF00"/><stop offset="0.9307" stop-color="#90FF00"/><stop offset="0.9342" stop-color="#00E8FF"/><stop offset="1.0000" stop-color="#00E8FF"/></linearGradient><linearGradient id="gH10" gradientUnits="userSpaceOnUse" x1="97.0" y1="0" x2="776.0" y2="0"><stop offset="0.0000" stop-color="#00FFA8"/><stop offset="0.0115" stop-color="#00FFA8"/><stop offset="0.0150" stop-color="#40FF00"/><stop offset="0.0306" stop-color="#40FF00"/><stop offset="0.0342" stop-color="#90FF00"/><stop offset="0.0395" stop-color="#90FF00"/><stop offset="0.0424" stop-color="#EEFF00"/><stop offset="0.0430" stop-color="#EEFF00"/><stop offset="0.0459" stop-color="#FFA800"/><stop offset="0.0616" stop-color="#FFA800"/><stop offset="0.0651" stop-color="#EEFF00"/><stop offset="0.0689" stop-color="#EEFF00"/><stop offset="0.0725" stop-color="#90FF00"/><stop offset="0.0807" stop-color="#90FF00"/><stop offset="0.0842" stop-color="#EEFF00"/><stop offset="0.0895" stop-color="#EEFF00"/><stop offset="0.0931" stop-color="#FFA800"/><stop offset="0.1028" stop-color="#FFA800"/><stop offset="0.1063" stop-color="#FF5500"/><stop offset="0.1087" stop-color="#FF5500"/><stop offset="0.1122" stop-color="#FF0000"/><stop offset="0.1308" stop-color="#FF0000"/><stop offset="0.1343" stop-color="#FF2EA6"/><stop offset="0.1558" stop-color="#FF2EA6"/><stop offset="0.1594" stop-color="#FF0040"/><stop offset="0.1809" stop-color="#FF0040"/><stop offset="0.1844" stop-color="#FFA800"/><stop offset="0.2000" stop-color="#FFA800"/><stop offset="0.2035" stop-color="#FFD000"/><stop offset="0.2191" stop-color="#FFD000"/><stop offset="0.2227" stop-color="#90FF00"/><stop offset="0.2457" stop-color="#90FF00"/><stop offset="0.2492" stop-color="#40FF00"/><stop offset="0.2677" stop-color="#40FF00"/><stop offset="0.2713" stop-color="#EEFF00"/><stop offset="0.3001" stop-color="#EEFF00"/><stop offset="0.3037" stop-color="#90FF00"/><stop offset="0.3635" stop-color="#90FF00"/><stop offset="0.3670" stop-color="#EEFF00"/><stop offset="0.3856" stop-color="#EEFF00"/><stop offset="0.3891" stop-color="#40FF00"/><stop offset="0.4592" stop-color="#40FF00"/><stop offset="0.4627" stop-color="#00FF74"/><stop offset="0.4916" stop-color="#00FF74"/><stop offset="0.4951" stop-color="#00E8FF"/><stop offset="0.5343" stop-color="#00E8FF"/><stop offset="0.5378" stop-color="#00FFA8"/><stop offset="0.5623" stop-color="#00FFA8"/><stop offset="0.5658" stop-color="#40FF00"/><stop offset="0.5829" stop-color="#40FF00"/><stop offset="0.5865" stop-color="#EEFF00"/><stop offset="0.5991" stop-color="#EEFF00"/><stop offset="0.6027" stop-color="#FF8000"/><stop offset="0.6153" stop-color="#FF8000"/><stop offset="0.6189" stop-color="#FF0000"/><stop offset="0.6374" stop-color="#FF0000"/><stop offset="0.6409" stop-color="#FF0040"/><stop offset="0.6507" stop-color="#FF0040"/><stop offset="0.6542" stop-color="#FF2EA6"/><stop offset="0.6624" stop-color="#FF2EA6"/><stop offset="0.6660" stop-color="#FF80FF"/><stop offset="0.7788" stop-color="#FF80FF"/><stop offset="0.7823" stop-color="#FF2EA6"/><stop offset="0.8127" stop-color="#FF2EA6"/><stop offset="0.8162" stop-color="#FF0040"/><stop offset="0.8274" stop-color="#FF0040"/><stop offset="0.8309" stop-color="#FFD000"/><stop offset="0.8362" stop-color="#FFD000"/><stop offset="0.8398" stop-color="#40FF00"/><stop offset="0.8583" stop-color="#40FF00"/><stop offset="0.8619" stop-color="#00E8FF"/><stop offset="0.8775" stop-color="#00E8FF"/><stop offset="0.8810" stop-color="#0088FF"/><stop offset="0.8937" stop-color="#0088FF"/><stop offset="0.8972" stop-color="#00E8FF"/><stop offset="0.9040" stop-color="#00E8FF"/><stop offset="0.9075" stop-color="#40FF00"/><stop offset="0.9158" stop-color="#40FF00"/><stop offset="0.9193" stop-color="#FFD000"/><stop offset="0.9320" stop-color="#FFD000"/><stop offset="0.9355" stop-color="#EEFF00"/><stop offset="0.9378" stop-color="#EEFF00"/><stop offset="0.9414" stop-color="#90FF00"/><stop offset="0.9541" stop-color="#90FF00"/><stop offset="0.9576" stop-color="#00E8FF"/><stop offset="1.0000" stop-color="#00E8FF"/></linearGradient><linearGradient id="gH11" gradientUnits="userSpaceOnUse" x1="100.0" y1="0" x2="785.0" y2="0"><stop offset="0.0000" stop-color="#FFA800"/><stop offset="0.0158" stop-color="#FFA800"/><stop offset="0.0193" stop-color="#FF5500"/><stop offset="0.0347" stop-color="#FF5500"/><stop offset="0.0382" stop-color="#FF0000"/><stop offset="0.0479" stop-color="#FF0000"/><stop offset="0.0514" stop-color="#FF2EA6"/><stop offset="0.0596" stop-color="#FF2EA6"/><stop offset="0.0631" stop-color="#FF0040"/><stop offset="0.0975" stop-color="#FF0040"/><stop offset="0.1010" stop-color="#FF0000"/><stop offset="0.1384" stop-color="#FF0000"/><stop offset="0.1419" stop-color="#FF0040"/><stop offset="0.1574" stop-color="#FF0040"/><stop offset="0.1609" stop-color="#FF2EA6"/><stop offset="0.2128" stop-color="#FF2EA6"/><stop offset="0.2164" stop-color="#FF80FF"/><stop offset="0.2318" stop-color="#FF80FF"/><stop offset="0.2353" stop-color="#FF2EA6"/><stop offset="0.2391" stop-color="#FF2EA6"/><stop offset="0.2426" stop-color="#FF0040"/><stop offset="0.2552" stop-color="#FF0040"/><stop offset="0.2587" stop-color="#FF8000"/><stop offset="0.2712" stop-color="#FF8000"/><stop offset="0.2747" stop-color="#FFA800"/><stop offset="0.2961" stop-color="#FFA800"/><stop offset="0.2996" stop-color="#FFD000"/><stop offset="0.3165" stop-color="#FFD000"/><stop offset="0.3200" stop-color="#90FF00"/><stop offset="0.3267" stop-color="#90FF00"/><stop offset="0.3302" stop-color="#EEFF00"/><stop offset="0.3340" stop-color="#EEFF00"/><stop offset="0.3375" stop-color="#FFA800"/><stop offset="0.3559" stop-color="#FFA800"/><stop offset="0.3594" stop-color="#FF5500"/><stop offset="0.3691" stop-color="#FF5500"/><stop offset="0.3726" stop-color="#FF0000"/><stop offset="0.4128" stop-color="#FF0000"/><stop offset="0.4164" stop-color="#FF5500"/><stop offset="0.4274" stop-color="#FF5500"/><stop offset="0.4309" stop-color="#FFA800"/><stop offset="0.4435" stop-color="#FFA800"/><stop offset="0.4470" stop-color="#FFD000"/><stop offset="0.4581" stop-color="#FFD000"/><stop offset="0.4616" stop-color="#90FF00"/><stop offset="0.4727" stop-color="#90FF00"/><stop offset="0.4762" stop-color="#40FF00"/><stop offset="0.4800" stop-color="#40FF00"/><stop offset="0.4835" stop-color="#00FFA8"/><stop offset="0.4961" stop-color="#00FFA8"/><stop offset="0.4996" stop-color="#00E8FF"/><stop offset="0.5223" stop-color="#00E8FF"/><stop offset="0.5258" stop-color="#00FFA8"/><stop offset="0.5311" stop-color="#00FFA8"/><stop offset="0.5346" stop-color="#40FF00"/><stop offset="0.5457" stop-color="#40FF00"/><stop offset="0.5492" stop-color="#FFD000"/><stop offset="0.5530" stop-color="#FFD000"/><stop offset="0.5565" stop-color="#FF8000"/><stop offset="0.5676" stop-color="#FF8000"/><stop offset="0.5711" stop-color="#FFD000"/><stop offset="0.5822" stop-color="#FFD000"/><stop offset="0.5857" stop-color="#90FF00"/><stop offset="0.5924" stop-color="#90FF00"/><stop offset="0.5959" stop-color="#00E8FF"/><stop offset="0.6085" stop-color="#00E8FF"/><stop offset="0.6120" stop-color="#0088FF"/><stop offset="0.6172" stop-color="#0088FF"/><stop offset="0.6207" stop-color="#0000FF"/><stop offset="0.6274" stop-color="#0000FF"/><stop offset="0.6309" stop-color="#0088FF"/><stop offset="0.6377" stop-color="#0088FF"/><stop offset="0.6412" stop-color="#00E8FF"/><stop offset="0.6435" stop-color="#00E8FF"/><stop offset="0.6470" stop-color="#FFA800"/><stop offset="0.6493" stop-color="#FFA800"/><stop offset="0.6528" stop-color="#FF80FF"/><stop offset="0.7296" stop-color="#FF80FF"/><stop offset="0.7331" stop-color="#FF2EA6"/><stop offset="0.7428" stop-color="#FF2EA6"/><stop offset="0.7463" stop-color="#FF0040"/><stop offset="0.7734" stop-color="#FF0040"/><stop offset="0.7769" stop-color="#FF2EA6"/><stop offset="0.8055" stop-color="#FF2EA6"/><stop offset="0.8091" stop-color="#FF0000"/><stop offset="0.8318" stop-color="#FF0000"/><stop offset="0.8353" stop-color="#FFA800"/><stop offset="0.8377" stop-color="#FFA800"/><stop offset="0.8412" stop-color="#40FF00"/><stop offset="0.8756" stop-color="#40FF00"/><stop offset="0.8791" stop-color="#EEFF00"/><stop offset="0.8815" stop-color="#EEFF00"/><stop offset="0.8850" stop-color="#90FF00"/><stop offset="0.8917" stop-color="#90FF00"/><stop offset="0.8952" stop-color="#00FFA8"/><stop offset="0.9034" stop-color="#00FFA8"/><stop offset="0.9069" stop-color="#40FF00"/><stop offset="0.9355" stop-color="#40FF00"/><stop offset="0.9390" stop-color="#00E8FF"/><stop offset="0.9530" stop-color="#00E8FF"/><stop offset="0.9565" stop-color="#0088FF"/><stop offset="0.9749" stop-color="#0088FF"/><stop offset="0.9784" stop-color="#90FF00"/><stop offset="0.9836" stop-color="#90FF00"/><stop offset="0.9872" stop-color="#FF8000"/><stop offset="0.9909" stop-color="#FF8000"/><stop offset="0.9945" stop-color="#FF0000"/><stop offset="1.0000" stop-color="#FF0000"/></linearGradient><linearGradient id="gH12" gradientUnits="userSpaceOnUse" x1="92.0" y1="0" x2="778.0" y2="0"><stop offset="0.0000" stop-color="#FF2EA6"/><stop offset="0.0187" stop-color="#FF2EA6"/><stop offset="0.0222" stop-color="#FFA800"/><stop offset="0.0464" stop-color="#FFA800"/><stop offset="0.0499" stop-color="#FF0040"/><stop offset="0.0624" stop-color="#FF0040"/><stop offset="0.0659" stop-color="#FF2EA6"/><stop offset="0.0959" stop-color="#FF2EA6"/><stop offset="0.0994" stop-color="#FF0040"/><stop offset="0.1222" stop-color="#FF0040"/><stop offset="0.1257" stop-color="#FF5500"/><stop offset="0.1615" stop-color="#FF5500"/><stop offset="0.1650" stop-color="#FF0040"/><stop offset="0.1805" stop-color="#FF0040"/><stop offset="0.1840" stop-color="#FF80FF"/><stop offset="0.2125" stop-color="#FF80FF"/><stop offset="0.2160" stop-color="#FF2EA6"/><stop offset="0.2431" stop-color="#FF2EA6"/><stop offset="0.2466" stop-color="#FF0040"/><stop offset="0.2650" stop-color="#FF0040"/><stop offset="0.2685" stop-color="#FF5500"/><stop offset="0.2796" stop-color="#FF5500"/><stop offset="0.2831" stop-color="#FFA800"/><stop offset="0.3073" stop-color="#FFA800"/><stop offset="0.3108" stop-color="#FFD000"/><stop offset="0.3292" stop-color="#FFD000"/><stop offset="0.3327" stop-color="#FF8000"/><stop offset="0.3423" stop-color="#FF8000"/><stop offset="0.3458" stop-color="#FF0000"/><stop offset="0.3802" stop-color="#FF0000"/><stop offset="0.3837" stop-color="#FF5500"/><stop offset="0.3948" stop-color="#FF5500"/><stop offset="0.3983" stop-color="#FFA800"/><stop offset="0.4050" stop-color="#FFA800"/><stop offset="0.4085" stop-color="#FFD000"/><stop offset="0.4210" stop-color="#FFD000"/><stop offset="0.4245" stop-color="#90FF00"/><stop offset="0.4429" stop-color="#90FF00"/><stop offset="0.4464" stop-color="#40FF00"/><stop offset="0.4516" stop-color="#40FF00"/><stop offset="0.4551" stop-color="#00E8FF"/><stop offset="0.4706" stop-color="#00E8FF"/><stop offset="0.4741" stop-color="#0088FF"/><stop offset="0.5201" stop-color="#0088FF"/><stop offset="0.5236" stop-color="#00E8FF"/><stop offset="0.5391" stop-color="#00E8FF"/><stop offset="0.5426" stop-color="#90FF00"/><stop offset="0.5434" stop-color="#90FF00"/><stop offset="0.5469" stop-color="#FF8000"/><stop offset="0.5478" stop-color="#FF8000"/><stop offset="0.5513" stop-color="#FF0000"/><stop offset="0.5595" stop-color="#FF0000"/><stop offset="0.5630" stop-color="#FF5500"/><stop offset="0.5784" stop-color="#FF5500"/><stop offset="0.5819" stop-color="#FF0040"/><stop offset="0.6003" stop-color="#FF0040"/><stop offset="0.6038" stop-color="#FF2EA6"/><stop offset="0.6251" stop-color="#FF2EA6"/><stop offset="0.6286" stop-color="#FF0040"/><stop offset="0.6382" stop-color="#FF0040"/><stop offset="0.6417" stop-color="#FF2EA6"/><stop offset="0.6528" stop-color="#FF2EA6"/><stop offset="0.6563" stop-color="#FF80FF"/><stop offset="0.6848" stop-color="#FF80FF"/><stop offset="0.6883" stop-color="#FF2EA6"/><stop offset="0.6907" stop-color="#FF2EA6"/><stop offset="0.6942" stop-color="#FF0000"/><stop offset="0.7257" stop-color="#FF0000"/><stop offset="0.7292" stop-color="#FF2EA6"/><stop offset="0.7373" stop-color="#FF2EA6"/><stop offset="0.7408" stop-color="#FF80FF"/><stop offset="0.7883" stop-color="#FF80FF"/><stop offset="0.7918" stop-color="#FF2EA6"/><stop offset="0.7971" stop-color="#FF2EA6"/><stop offset="0.8006" stop-color="#FF0000"/><stop offset="0.8044" stop-color="#FF0000"/><stop offset="0.8079" stop-color="#FFA800"/><stop offset="0.8117" stop-color="#FFA800"/><stop offset="0.8152" stop-color="#40FF00"/><stop offset="0.8262" stop-color="#40FF00"/><stop offset="0.8297" stop-color="#00E8FF"/><stop offset="0.8350" stop-color="#00E8FF"/><stop offset="0.8385" stop-color="#00FF40"/><stop offset="0.8510" stop-color="#00FF40"/><stop offset="0.8545" stop-color="#EEFF00"/><stop offset="0.8612" stop-color="#EEFF00"/><stop offset="0.8647" stop-color="#FF0000"/><stop offset="0.8918" stop-color="#FF0000"/><stop offset="0.8953" stop-color="#FFA800"/><stop offset="0.9079" stop-color="#FFA800"/><stop offset="0.9114" stop-color="#FFD000"/><stop offset="0.9224" stop-color="#FFD000"/><stop offset="0.9259" stop-color="#90FF00"/><stop offset="0.9516" stop-color="#90FF00"/><stop offset="0.9551" stop-color="#40FF00"/><stop offset="0.9647" stop-color="#40FF00"/><stop offset="0.9682" stop-color="#FFA800"/><stop offset="0.9720" stop-color="#FFA800"/><stop offset="0.9755" stop-color="#FF0000"/><stop offset="0.9822" stop-color="#FF0000"/><stop offset="0.9857" stop-color="#FF80FF"/><stop offset="1.0000" stop-color="#FF80FF"/></linearGradient><linearGradient id="gV1" gradientUnits="userSpaceOnUse" x1="0" y1="117.0" x2="0" y2="541.0"><stop offset="0.0000" stop-color="#FF80FF"/><stop offset="0.2212" stop-color="#FF80FF"/><stop offset="0.2269" stop-color="#FF2EA6"/><stop offset="0.2519" stop-color="#FF2EA6"/><stop offset="0.2575" stop-color="#FF0000"/><stop offset="0.2755" stop-color="#FF0000"/><stop offset="0.2811" stop-color="#FF8000"/><stop offset="0.2991" stop-color="#FF8000"/><stop offset="0.3047" stop-color="#FFD000"/><stop offset="0.3108" stop-color="#FFD000"/><stop offset="0.3165" stop-color="#EEFF00"/><stop offset="0.3226" stop-color="#EEFF00"/><stop offset="0.3283" stop-color="#90FF00"/><stop offset="0.3344" stop-color="#90FF00"/><stop offset="0.3401" stop-color="#40FF00"/><stop offset="0.3533" stop-color="#40FF00"/><stop offset="0.3590" stop-color="#00FFA8"/><stop offset="0.3698" stop-color="#00FFA8"/><stop offset="0.3755" stop-color="#00E8FF"/><stop offset="0.4995" stop-color="#00E8FF"/><stop offset="0.5052" stop-color="#0088FF"/><stop offset="0.5491" stop-color="#0088FF"/><stop offset="0.5547" stop-color="#0000FF"/><stop offset="0.6882" stop-color="#0000FF"/><stop offset="0.6939" stop-color="#0088FF"/><stop offset="0.7118" stop-color="#0088FF"/><stop offset="0.7175" stop-color="#00E8FF"/><stop offset="0.7354" stop-color="#00E8FF"/><stop offset="0.7410" stop-color="#00FFA8"/><stop offset="0.7731" stop-color="#00FFA8"/><stop offset="0.7788" stop-color="#40FF00"/><stop offset="0.7896" stop-color="#40FF00"/><stop offset="0.7953" stop-color="#EEFF00"/><stop offset="0.8061" stop-color="#EEFF00"/><stop offset="0.8118" stop-color="#FFA800"/><stop offset="0.8226" stop-color="#FFA800"/><stop offset="0.8283" stop-color="#FF0000"/><stop offset="0.8745" stop-color="#FF0000"/><stop offset="0.8802" stop-color="#FFA800"/><stop offset="0.8887" stop-color="#FFA800"/><stop offset="0.8943" stop-color="#EEFF00"/><stop offset="0.9005" stop-color="#EEFF00"/><stop offset="0.9061" stop-color="#40FF00"/><stop offset="0.9335" stop-color="#40FF00"/><stop offset="0.9392" stop-color="#90FF00"/><stop offset="0.9476" stop-color="#90FF00"/><stop offset="0.9533" stop-color="#FFA800"/><stop offset="0.9642" stop-color="#FFA800"/><stop offset="0.9698" stop-color="#FF0000"/><stop offset="1.0000" stop-color="#FF0000"/></linearGradient><linearGradient id="gV2" gradientUnits="userSpaceOnUse" x1="0" y1="109.0" x2="0" y2="550.0"><stop offset="0.0000" stop-color="#FFA800"/><stop offset="0.0177" stop-color="#FFA800"/><stop offset="0.0231" stop-color="#90FF00"/><stop offset="0.0449" stop-color="#90FF00"/><stop offset="0.0503" stop-color="#40FF00"/><stop offset="0.0902" stop-color="#40FF00"/><stop offset="0.0957" stop-color="#90FF00"/><stop offset="0.1061" stop-color="#90FF00"/><stop offset="0.1116" stop-color="#FFA800"/><stop offset="0.1152" stop-color="#FFA800"/><stop offset="0.1206" stop-color="#FF5500"/><stop offset="0.1265" stop-color="#FF5500"/><stop offset="0.1320" stop-color="#FF80FF"/><stop offset="0.1537" stop-color="#FF80FF"/><stop offset="0.1592" stop-color="#FF2EA6"/><stop offset="0.1719" stop-color="#FF2EA6"/><stop offset="0.1773" stop-color="#FF0000"/><stop offset="0.2626" stop-color="#FF0000"/><stop offset="0.2680" stop-color="#FF5500"/><stop offset="0.2762" stop-color="#FF5500"/><stop offset="0.2816" stop-color="#FFA800"/><stop offset="0.2943" stop-color="#FFA800"/><stop offset="0.2998" stop-color="#FFD000"/><stop offset="0.3170" stop-color="#FFD000"/><stop offset="0.3224" stop-color="#EEFF00"/><stop offset="0.3351" stop-color="#EEFF00"/><stop offset="0.3406" stop-color="#40FF00"/><stop offset="0.3669" stop-color="#40FF00"/><stop offset="0.3723" stop-color="#00FFA8"/><stop offset="0.3737" stop-color="#00FFA8"/><stop offset="0.3791" stop-color="#00E8FF"/><stop offset="0.4100" stop-color="#00E8FF"/><stop offset="0.4154" stop-color="#0088FF"/><stop offset="0.4304" stop-color="#0088FF"/><stop offset="0.4358" stop-color="#0000FF"/><stop offset="0.5234" stop-color="#0000FF"/><stop offset="0.5288" stop-color="#0088FF"/><stop offset="0.5460" stop-color="#0088FF"/><stop offset="0.5515" stop-color="#00E8FF"/><stop offset="0.5710" stop-color="#00E8FF"/><stop offset="0.5764" stop-color="#40FF00"/><stop offset="0.6435" stop-color="#40FF00"/><stop offset="0.6490" stop-color="#00FFA8"/><stop offset="0.6821" stop-color="#00FFA8"/><stop offset="0.6875" stop-color="#40FF00"/><stop offset="0.7501" stop-color="#40FF00"/><stop offset="0.7556" stop-color="#FFA800"/><stop offset="0.7705" stop-color="#FFA800"/><stop offset="0.7760" stop-color="#FF0000"/><stop offset="0.7841" stop-color="#FF0000"/><stop offset="0.7896" stop-color="#FF2EA6"/><stop offset="0.9293" stop-color="#FF2EA6"/><stop offset="0.9347" stop-color="#FF0040"/><stop offset="0.9519" stop-color="#FF0040"/><stop offset="0.9574" stop-color="#FF0000"/><stop offset="1.0000" stop-color="#FF0000"/></linearGradient><linearGradient id="gV3" gradientUnits="userSpaceOnUse" x1="0" y1="111.0" x2="0" y2="542.0"><stop offset="0.0000" stop-color="#FF5500"/><stop offset="0.0877" stop-color="#FF5500"/><stop offset="0.0933" stop-color="#FF8000"/><stop offset="0.1109" stop-color="#FF8000"/><stop offset="0.1165" stop-color="#FFA800"/><stop offset="0.1248" stop-color="#FFA800"/><stop offset="0.1304" stop-color="#40FF00"/><stop offset="0.1573" stop-color="#40FF00"/><stop offset="0.1629" stop-color="#00FF40"/><stop offset="0.1689" stop-color="#00FF40"/><stop offset="0.1745" stop-color="#00FFA8"/><stop offset="0.2037" stop-color="#00FFA8"/><stop offset="0.2093" stop-color="#40FF00"/><stop offset="0.2617" stop-color="#40FF00"/><stop offset="0.2673" stop-color="#90FF00"/><stop offset="0.2733" stop-color="#90FF00"/><stop offset="0.2789" stop-color="#EEFF00"/><stop offset="0.3081" stop-color="#EEFF00"/><stop offset="0.3137" stop-color="#40FF00"/><stop offset="0.3476" stop-color="#40FF00"/><stop offset="0.3531" stop-color="#00FFA8"/><stop offset="0.3615" stop-color="#00FFA8"/><stop offset="0.3671" stop-color="#40FF00"/><stop offset="0.3893" stop-color="#40FF00"/><stop offset="0.3949" stop-color="#EEFF00"/><stop offset="0.4009" stop-color="#EEFF00"/><stop offset="0.4065" stop-color="#FFA800"/><stop offset="0.4218" stop-color="#FFA800"/><stop offset="0.4274" stop-color="#FF5500"/><stop offset="0.4636" stop-color="#FF5500"/><stop offset="0.4691" stop-color="#FFD000"/><stop offset="0.4845" stop-color="#FFD000"/><stop offset="0.4900" stop-color="#EEFF00"/><stop offset="0.4937" stop-color="#EEFF00"/><stop offset="0.4993" stop-color="#90FF00"/><stop offset="0.5262" stop-color="#90FF00"/><stop offset="0.5318" stop-color="#00E8FF"/><stop offset="0.6237" stop-color="#00E8FF"/><stop offset="0.6292" stop-color="#00FFA8"/><stop offset="0.6445" stop-color="#00FFA8"/><stop offset="0.6501" stop-color="#40FF00"/><stop offset="0.7745" stop-color="#40FF00"/><stop offset="0.7800" stop-color="#90FF00"/><stop offset="0.7954" stop-color="#90FF00"/><stop offset="0.8009" stop-color="#FFD000"/><stop offset="0.8116" stop-color="#FFD000"/><stop offset="0.8172" stop-color="#FFA800"/><stop offset="0.8557" stop-color="#FFA800"/><stop offset="0.8613" stop-color="#FFD000"/><stop offset="0.8789" stop-color="#FFD000"/><stop offset="0.8845" stop-color="#FFD000"/><stop offset="0.9114" stop-color="#FFD000"/><stop offset="0.9169" stop-color="#FFD000"/><stop offset="0.9462" stop-color="#FFD000"/><stop offset="0.9517" stop-color="#FFA800"/><stop offset="0.9624" stop-color="#FFA800"/><stop offset="0.9680" stop-color="#FF0040"/><stop offset="1.0000" stop-color="#FF0040"/></linearGradient><linearGradient id="gV4" gradientUnits="userSpaceOnUse" x1="0" y1="111.0" x2="0" y2="538.0"><stop offset="0.0000" stop-color="#FF8000"/><stop offset="0.0838" stop-color="#FF8000"/><stop offset="0.0895" stop-color="#FF5500"/><stop offset="0.1119" stop-color="#FF5500"/><stop offset="0.1176" stop-color="#FF0000"/><stop offset="0.1822" stop-color="#FF0000"/><stop offset="0.1878" stop-color="#FF8000"/><stop offset="0.1939" stop-color="#FF8000"/><stop offset="0.1995" stop-color="#FF5500"/><stop offset="0.2173" stop-color="#FF5500"/><stop offset="0.2230" stop-color="#FFA800"/><stop offset="0.2478" stop-color="#FFA800"/><stop offset="0.2534" stop-color="#FFD000"/><stop offset="0.2759" stop-color="#FFD000"/><stop offset="0.2815" stop-color="#EEFF00"/><stop offset="0.2876" stop-color="#EEFF00"/><stop offset="0.2932" stop-color="#FFA800"/><stop offset="0.3227" stop-color="#FFA800"/><stop offset="0.3283" stop-color="#FF8000"/><stop offset="0.3508" stop-color="#FF8000"/><stop offset="0.3564" stop-color="#FF5500"/><stop offset="0.3649" stop-color="#FF5500"/><stop offset="0.3705" stop-color="#FF0000"/><stop offset="0.4047" stop-color="#FF0000"/><stop offset="0.4103" stop-color="#FF5500"/><stop offset="0.4164" stop-color="#FF5500"/><stop offset="0.4220" stop-color="#FF8000"/><stop offset="0.4492" stop-color="#FF8000"/><stop offset="0.4548" stop-color="#FFD000"/><stop offset="0.4749" stop-color="#FFD000"/><stop offset="0.4806" stop-color="#EEFF00"/><stop offset="0.5101" stop-color="#EEFF00"/><stop offset="0.5157" stop-color="#90FF00"/><stop offset="0.6155" stop-color="#90FF00"/><stop offset="0.6211" stop-color="#40FF00"/><stop offset="0.7864" stop-color="#40FF00"/><stop offset="0.7920" stop-color="#00FFA8"/><stop offset="0.8684" stop-color="#00FFA8"/><stop offset="0.8740" stop-color="#00E8FF"/><stop offset="0.9340" stop-color="#00E8FF"/><stop offset="0.9396" stop-color="#0088FF"/><stop offset="0.9738" stop-color="#0088FF"/><stop offset="0.9794" stop-color="#0000FF"/><stop offset="1.0000" stop-color="#0000FF"/></linearGradient><linearGradient id="gV5" gradientUnits="userSpaceOnUse" x1="0" y1="106.0" x2="0" y2="538.0"><stop offset="0.0000" stop-color="#FF0040"/><stop offset="0.1153" stop-color="#FF0040"/><stop offset="0.1208" stop-color="#FF5500"/><stop offset="0.1338" stop-color="#FF5500"/><stop offset="0.1394" stop-color="#FF8000"/><stop offset="0.1824" stop-color="#FF8000"/><stop offset="0.1880" stop-color="#FFA800"/><stop offset="0.2032" stop-color="#FFA800"/><stop offset="0.2088" stop-color="#FFD000"/><stop offset="0.2148" stop-color="#FFD000"/><stop offset="0.2204" stop-color="#EEFF00"/><stop offset="0.2333" stop-color="#EEFF00"/><stop offset="0.2389" stop-color="#90FF00"/><stop offset="0.2449" stop-color="#90FF00"/><stop offset="0.2505" stop-color="#40FF00"/><stop offset="0.3884" stop-color="#40FF00"/><stop offset="0.3940" stop-color="#00FFA8"/><stop offset="0.4255" stop-color="#00FFA8"/><stop offset="0.4310" stop-color="#00FF40"/><stop offset="0.4417" stop-color="#00FF40"/><stop offset="0.4472" stop-color="#FFD000"/><stop offset="0.4579" stop-color="#FFD000"/><stop offset="0.4634" stop-color="#FFA800"/><stop offset="0.4718" stop-color="#FFA800"/><stop offset="0.4773" stop-color="#FF0000"/><stop offset="0.5065" stop-color="#FF0000"/><stop offset="0.5120" stop-color="#FF2EA6"/><stop offset="0.5250" stop-color="#FF2EA6"/><stop offset="0.5306" stop-color="#FF0000"/><stop offset="0.5389" stop-color="#FF0000"/><stop offset="0.5444" stop-color="#FF5500"/><stop offset="0.5620" stop-color="#FF5500"/><stop offset="0.5676" stop-color="#FFA800"/><stop offset="0.5852" stop-color="#FFA800"/><stop offset="0.5907" stop-color="#FF0000"/><stop offset="0.6199" stop-color="#FF0000"/><stop offset="0.6255" stop-color="#FF5500"/><stop offset="0.6431" stop-color="#FF5500"/><stop offset="0.6486" stop-color="#FFA800"/><stop offset="0.6917" stop-color="#FFA800"/><stop offset="0.6972" stop-color="#FF0000"/><stop offset="0.7102" stop-color="#FF0000"/><stop offset="0.7157" stop-color="#FF2EA6"/><stop offset="0.7727" stop-color="#FF2EA6"/><stop offset="0.7782" stop-color="#FF2EA6"/><stop offset="0.7935" stop-color="#FF2EA6"/><stop offset="0.7991" stop-color="#FF0000"/><stop offset="0.8398" stop-color="#FF0000"/><stop offset="0.8454" stop-color="#FF5500"/><stop offset="0.8583" stop-color="#FF5500"/><stop offset="0.8639" stop-color="#FF0040"/><stop offset="0.8769" stop-color="#FF0040"/><stop offset="0.8824" stop-color="#FF80FF"/><stop offset="0.9880" stop-color="#FF80FF"/><stop offset="0.9935" stop-color="#FF2EA6"/><stop offset="1.0000" stop-color="#FF2EA6"/></linearGradient><linearGradient id="gV6" gradientUnits="userSpaceOnUse" x1="0" y1="117.0" x2="0" y2="541.0"><stop offset="0.0000" stop-color="#00FF40"/><stop offset="0.0160" stop-color="#00FF40"/><stop offset="0.0217" stop-color="#90FF00"/><stop offset="0.0514" stop-color="#90FF00"/><stop offset="0.0571" stop-color="#EEFF00"/><stop offset="0.0656" stop-color="#EEFF00"/><stop offset="0.0712" stop-color="#FFA800"/><stop offset="0.0797" stop-color="#FFA800"/><stop offset="0.0854" stop-color="#90FF00"/><stop offset="0.0915" stop-color="#90FF00"/><stop offset="0.0972" stop-color="#FFD000"/><stop offset="0.1080" stop-color="#FFD000"/><stop offset="0.1137" stop-color="#EEFF00"/><stop offset="0.1245" stop-color="#EEFF00"/><stop offset="0.1302" stop-color="#FFD000"/><stop offset="0.1363" stop-color="#FFD000"/><stop offset="0.1410" stop-color="#FF8000"/><stop offset="0.1420" stop-color="#FF8000"/><stop offset="0.1467" stop-color="#FF0040"/><stop offset="0.1552" stop-color="#FF0040"/><stop offset="0.1608" stop-color="#FF2EA6"/><stop offset="0.1670" stop-color="#FF2EA6"/><stop offset="0.1726" stop-color="#FF5500"/><stop offset="0.1788" stop-color="#FF5500"/><stop offset="0.1844" stop-color="#FFA800"/><stop offset="0.2071" stop-color="#FFA800"/><stop offset="0.2127" stop-color="#FFD000"/><stop offset="0.2425" stop-color="#FFD000"/><stop offset="0.2481" stop-color="#40FF00"/><stop offset="0.2613" stop-color="#40FF00"/><stop offset="0.2670" stop-color="#EEFF00"/><stop offset="0.2755" stop-color="#EEFF00"/><stop offset="0.2811" stop-color="#FF8000"/><stop offset="0.2873" stop-color="#FF8000"/><stop offset="0.2929" stop-color="#FF0000"/><stop offset="0.3226" stop-color="#FF0000"/><stop offset="0.3283" stop-color="#FF0040"/><stop offset="0.3344" stop-color="#FF0040"/><stop offset="0.3401" stop-color="#FF2EA6"/><stop offset="0.3462" stop-color="#FF2EA6"/><stop offset="0.3519" stop-color="#FF0000"/><stop offset="0.3840" stop-color="#FF0000"/><stop offset="0.3896" stop-color="#FF8000"/><stop offset="0.4146" stop-color="#FF8000"/><stop offset="0.4203" stop-color="#FFA800"/><stop offset="0.4288" stop-color="#FFA800"/><stop offset="0.4344" stop-color="#90FF00"/><stop offset="0.4524" stop-color="#90FF00"/><stop offset="0.4580" stop-color="#00E8FF"/><stop offset="0.4642" stop-color="#00E8FF"/><stop offset="0.4698" stop-color="#0088FF"/><stop offset="0.5160" stop-color="#0088FF"/><stop offset="0.5217" stop-color="#00E8FF"/><stop offset="0.5349" stop-color="#00E8FF"/><stop offset="0.5406" stop-color="#00FFA8"/><stop offset="0.5538" stop-color="#00FFA8"/><stop offset="0.5594" stop-color="#40FF00"/><stop offset="0.5703" stop-color="#40FF00"/><stop offset="0.5759" stop-color="#EEFF00"/><stop offset="0.5892" stop-color="#EEFF00"/><stop offset="0.5948" stop-color="#FF0000"/><stop offset="0.6080" stop-color="#FF0000"/><stop offset="0.6137" stop-color="#FF80FF"/><stop offset="0.6340" stop-color="#FF80FF"/><stop offset="0.6396" stop-color="#FF2EA6"/><stop offset="0.6528" stop-color="#FF2EA6"/><stop offset="0.6585" stop-color="#FF0040"/><stop offset="0.6646" stop-color="#FF0040"/><stop offset="0.6703" stop-color="#FF8000"/><stop offset="0.6835" stop-color="#FF8000"/><stop offset="0.6892" stop-color="#FF0000"/><stop offset="0.6953" stop-color="#FF0000"/><stop offset="0.7009" stop-color="#FFA800"/><stop offset="0.7236" stop-color="#FFA800"/><stop offset="0.7292" stop-color="#FF5500"/><stop offset="0.7401" stop-color="#FF5500"/><stop offset="0.7458" stop-color="#FF0000"/><stop offset="0.7613" stop-color="#FF0000"/><stop offset="0.7670" stop-color="#FF2EA6"/><stop offset="0.7731" stop-color="#FF2EA6"/><stop offset="0.7788" stop-color="#FF80FF"/><stop offset="0.8297" stop-color="#FF80FF"/><stop offset="0.8354" stop-color="#FF2EA6"/><stop offset="0.9099" stop-color="#FF2EA6"/><stop offset="0.9156" stop-color="#FF0040"/><stop offset="0.9311" stop-color="#FF0040"/><stop offset="0.9368" stop-color="#FFA800"/><stop offset="0.9453" stop-color="#FFA800"/><stop offset="0.9509" stop-color="#40FF00"/><stop offset="0.9712" stop-color="#40FF00"/><stop offset="0.9769" stop-color="#00E8FF"/><stop offset="1.0000" stop-color="#00E8FF"/></linearGradient><linearGradient id="gV7" gradientUnits="userSpaceOnUse" x1="0" y1="92.0" x2="0" y2="528.0"><stop offset="0.0000" stop-color="#0088FF"/><stop offset="0.0064" stop-color="#0088FF"/><stop offset="0.0119" stop-color="#FF5500"/><stop offset="0.0271" stop-color="#FF5500"/><stop offset="0.0326" stop-color="#FF0000"/><stop offset="0.0431" stop-color="#FF0000"/><stop offset="0.0486" stop-color="#FFA800"/><stop offset="0.0569" stop-color="#FFA800"/><stop offset="0.0624" stop-color="#90FF00"/><stop offset="0.0729" stop-color="#90FF00"/><stop offset="0.0784" stop-color="#40FF00"/><stop offset="0.1532" stop-color="#40FF00"/><stop offset="0.1587" stop-color="#90FF00"/><stop offset="0.1647" stop-color="#90FF00"/><stop offset="0.1702" stop-color="#00E8FF"/><stop offset="0.1807" stop-color="#00E8FF"/><stop offset="0.1862" stop-color="#0088FF"/><stop offset="0.2358" stop-color="#0088FF"/><stop offset="0.2413" stop-color="#0000FF"/><stop offset="0.3046" stop-color="#0000FF"/><stop offset="0.3101" stop-color="#00E8FF"/><stop offset="0.3229" stop-color="#00E8FF"/><stop offset="0.3284" stop-color="#00FFA8"/><stop offset="0.3390" stop-color="#00FFA8"/><stop offset="0.3445" stop-color="#EEFF00"/><stop offset="0.3573" stop-color="#EEFF00"/><stop offset="0.3628" stop-color="#FFA800"/><stop offset="0.3734" stop-color="#FFA800"/><stop offset="0.3789" stop-color="#90FF00"/><stop offset="0.3872" stop-color="#90FF00"/><stop offset="0.3927" stop-color="#0088FF"/><stop offset="0.4101" stop-color="#0088FF"/><stop offset="0.4156" stop-color="#0000FF"/><stop offset="0.6303" stop-color="#0000FF"/><stop offset="0.6358" stop-color="#0088FF"/><stop offset="0.6578" stop-color="#0088FF"/><stop offset="0.6633" stop-color="#00E8FF"/><stop offset="0.6830" stop-color="#00E8FF"/><stop offset="0.6885" stop-color="#00FFA8"/><stop offset="0.7243" stop-color="#00FFA8"/><stop offset="0.7298" stop-color="#00E8FF"/><stop offset="0.7908" stop-color="#00E8FF"/><stop offset="0.7963" stop-color="#0088FF"/><stop offset="0.8826" stop-color="#0088FF"/><stop offset="0.8881" stop-color="#00E8FF"/><stop offset="0.8963" stop-color="#00E8FF"/><stop offset="0.9018" stop-color="#00FF40"/><stop offset="0.9101" stop-color="#00FF40"/><stop offset="0.9156" stop-color="#EEFF00"/><stop offset="0.9261" stop-color="#EEFF00"/><stop offset="0.9317" stop-color="#FF8000"/><stop offset="0.9445" stop-color="#FF8000"/><stop offset="0.9500" stop-color="#FF0000"/><stop offset="0.9697" stop-color="#FF0000"/><stop offset="0.9752" stop-color="#FF2EA6"/><stop offset="1.0000" stop-color="#FF2EA6"/></linearGradient></defs>
<rect width="933" height="699" fill="#fff"/>
<path d="M0 1.5H933M0 697.5H933" stroke="#000" stroke-width="1" fill="none"/>
<g id="logo">
<rect x="18" y="11" width="19" height="20" fill="#0A7A3C"/>
<g stroke="#fff" stroke-width="0.95" fill="none" stroke-linecap="butt">
<path d="M18 19.4 C22 19.4, 26 19.8, 28.5 19 C31.5 18, 34 16, 37 14.3"/>
<path d="M18 23.3 C20 22, 22.5 21, 25 20.7 C28 20.4, 30 20.8, 32 20 C34 19.3, 35.5 18.8, 37 18.3"/>
<path d="M28 22.6 C31 22.4, 34 21.4, 37 20.6"/>
<path d="M30.5 25.2 C33 24.8, 35 24.4, 37 24.1"/>
<path d="M32 26.6 C34 26.5, 35.5 26.5, 37 26.4"/>
<path d="M18 16.4 H20"/>
</g>
<text x="39.6" y="30.6" font-family="Liberation Sans, sans-serif" font-weight="bold" font-size="27" fill="#0A7A3C" stroke="#0A7A3C" stroke-width="0.9" textLength="53.5" lengthAdjust="spacingAndGlyphs">USGS</text>
<text x="18.2" y="38.2" font-family="Liberation Sans, sans-serif" font-weight="bold" font-style="italic" font-size="6.8" fill="#0A7A3C" stroke="#0A7A3C" stroke-width="0.3" textLength="75.3" lengthAdjust="spacingAndGlyphs">science for a changing world</text>
</g>
<g fill="none" stroke-width="7.0" stroke-linecap="round" stroke-linejoin="round"><path d="M104.0 128.5 L280.0 125.4 L470.0 121.0 L481.0 119.5 L524.0 119.0 L556.0 123.5 L590.0 121.5 L630.0 119.7 L660.0 118.3 L769.5 113.8" stroke="url(#gH1)"/><path d="M105.0 168.9 L280.0 160.7 L470.0 158.6 L481.0 159.0 L535.0 156.5 L630.0 154.5 L660.0 153.5 L761.0 150.2" stroke="url(#gH2)"/><path d="M103.0 200.4 L116.0 203.6 L146.5 210.0 L217.0 200.4 L280.0 198.2 L470.0 194.6 L630.0 191.4 L768.0 188.2" stroke="url(#gH3)"/><path d="M94.0 234.7 L165.7 236.2 L217.0 235.3 L280.0 232.5 L470.0 229.7 L630.0 226.8 L700.0 224.0 L761.0 221.4" stroke="url(#gH4)"/><path d="M138.0 272.6 L208.6 271.1 L280.0 271.0 L470.0 266.8 L630.0 263.9 L770.0 257.9" stroke="url(#gH5)"/><path d="M93.0 313.6 L105.0 311.9 L118.0 310.3 L135.0 308.6 L160.0 307.6 L202.0 307.2 L280.0 307.0 L470.0 302.6 L630.0 299.7 L765.0 291.0" stroke="url(#gH6)"/><path d="M105.0 346.1 L187.0 344.0 L270.0 342.9 L398.6 344.0 L470.0 338.6 L492.0 340.3 L545.7 337.5 L630.0 339.0 L660.0 338.0 L772.0 329.0" stroke="url(#gH7)"/><path d="M100.0 382.5 L187.0 381.4 L280.0 380.8 L470.0 376.0 L630.0 371.4 L755.0 365.0" stroke="url(#gH8)"/><path d="M104.0 416.8 L187.0 416.4 L280.0 415.3 L470.0 411.4 L599.0 408.2 L630.0 411.0 L660.0 410.3 L776.5 403.6" stroke="url(#gH9)"/><path d="M100.5 453.2 L187.0 453.9 L280.0 451.7 L470.0 447.9 L630.0 445.4 L660.0 442.5 L772.0 440.0" stroke="url(#gH10)"/><path d="M104.0 491.8 L144.0 488.6 L228.0 489.0 L280.0 488.6 L470.0 482.9 L630.0 481.8 L660.0 480.7 L781.0 476.4" stroke="url(#gH11)"/><path d="M96.0 527.0 L217.0 526.1 L280.0 525.5 L470.0 520.4 L630.0 516.1 L660.0 516.1 L775.0 510.3" stroke="url(#gH12)"/><path d="M112.2 120.3 L112.6 180.0 L113.2 280.0 L111.7 370.0 L111.1 460.0 L110.0 537.0" stroke="url(#gV1)"/><path d="M209.7 113.0 L211.5 140.0 L213.5 164.0 L216.5 190.0 L217.8 215.0 L218.3 240.0 L218.7 280.0 L219.3 370.0 L220.4 455.0 L218.3 490.0 L214.6 528.0 L214.6 545.5" stroke="url(#gV2)"/><path d="M320.4 115.0 L324.7 184.0 L325.3 275.0 L326.8 365.0 L328.3 450.0 L329.6 538.5" stroke="url(#gV3)"/><path d="M430.8 115.0 L432.3 185.0 L433.3 275.0 L435.5 365.0 L436.1 460.0 L436.4 505.0 L431.7 534.0" stroke="url(#gV4)"/><path d="M536.4 109.5 L537.5 150.0 L539.7 185.0 L542.0 275.0 L542.5 370.0 L542.5 419.0 L544.7 436.5 L545.5 470.0 L545.7 483.0 L544.2 533.5" stroke="url(#gV5)"/><path d="M644.8 120.0 L645.4 175.0 L648.4 275.0 L650.8 360.0 L651.3 450.0 L650.4 478.0 L647.1 494.0 L648.2 511.0 L651.0 526.0 L652.3 538.0" stroke="url(#gV6)"/><path d="M747.8 96.0 L750.3 150.0 L752.2 175.0 L753.6 265.0 L754.3 281.0 L754.3 311.0 L756.5 350.0 L757.5 360.0 L762.9 445.0 L765.0 524.5" stroke="url(#gV7)"/></g>
<path d="M90.0 118.5H109.0M99.5 109.0V128.0M255.0 117.5H274.0M264.5 108.0V127.0M420.0 114.5H439.0M429.5 105.0V124.0M585.0 110.5H604.0M594.5 101.0V120.0M751.0 105.5H770.0M760.5 96.0V115.0M92.0 224.5H111.0M101.5 215.0V234.0M257.0 221.5H276.0M266.5 212.0V231.0M423.0 218.5H442.0M432.5 209.0V228.0M588.0 214.5H607.0M597.5 205.0V224.0M754.0 209.5H773.0M763.5 200.0V219.0M93.0 327.5H112.0M102.5 318.0V337.0M259.0 325.5H278.0M268.5 316.0V335.0M425.0 322.5H444.0M434.5 313.0V332.0M591.0 318.5H610.0M600.5 309.0V328.0M757.0 314.5H776.0M766.5 305.0V324.0M94.0 432.5H113.0M103.5 423.0V442.0M260.0 430.5H279.0M269.5 421.0V440.0M427.0 426.5H446.0M436.5 417.0V436.0M594.0 423.5H613.0M603.5 414.0V433.0M761.0 418.5H780.0M770.5 409.0V428.0M95.0 536.5H114.0M104.5 527.0V546.0M262.0 534.5H281.0M271.5 525.0V544.0M430.0 531.5H449.0M439.5 522.0V541.0M597.0 526.5H616.0M606.5 517.0V536.0M764.0 521.5H783.0M773.5 512.0V531.0" stroke="#000" stroke-width="1" fill="none"/>
<path d="M54.5 57.5H820.5V584.5H54.5ZM99.5 57.5V72.5M264.5 57.5V72.5M428.5 57.5V72.5M593.5 57.5V72.5M758.5 57.5V72.5M104.5 584.5V569.5M272.5 584.5V569.5M439.5 584.5V569.5M607.5 584.5V569.5M774.5 584.5V569.5M54.5 119.5H69.5M54.5 224.5H69.5M54.5 328.5H69.5M54.5 432.5H69.5M54.5 536.5H69.5M820.5 103.5H805.5M820.5 208.5H805.5M820.5 312.5H805.5M820.5 416.5H805.5M820.5 521.5H805.5" stroke="#000" stroke-width="1" fill="none"/>
<rect x="895" y="190" width="23" height="15" fill="#FF80FF"/><rect x="895" y="205" width="23" height="15" fill="#FF2EA6"/><rect x="895" y="220" width="23" height="15" fill="#FF0040"/><rect x="895" y="235" width="23" height="15" fill="#FF0000"/><rect x="895" y="250" width="23" height="16" fill="#FF5500"/><rect x="895" y="266" width="23" height="15" fill="#FF8000"/><rect x="895" y="281" width="23" height="15" fill="#FFA800"/><rect x="895" y="296" width="23" height="15" fill="#FFD000"/><rect x="895" y="311" width="23" height="15" fill="#EEFF00"/><rect x="895" y="326" width="23" height="15" fill="#90FF00"/><rect x="895" y="341" width="23" height="15" fill="#40FF00"/><rect x="895" y="356" width="23" height="16" fill="#00FF40"/><rect x="895" y="372" width="23" height="15" fill="#00FFA8"/><rect x="895" y="387" width="23" height="15" fill="#00E8FF"/><rect x="895" y="402" width="23" height="15" fill="#0088FF"/><rect x="895" y="417" width="23" height="15" fill="#0000FF"/>
<path d="M895 190.5H918M895 205.5H918M895 220.5H918M895 235.5H918M895 250.5H918M895 266.5H918M895 281.5H918M895 296.5H918M895 311.5H918M895 326.5H918M895 341.5H918M895 356.5H918M895 372.5H918M895 387.5H918M895 402.5H918M895 417.5H918M895 432.5H918M895.5 190.5V432.5 M917.5 190.5V432.5" stroke="#000" stroke-width="1" fill="none"/>
<g id="north" stroke="#000" fill="none" stroke-width="1">
<rect x="897" y="593" width="2" height="3.5" fill="#000" stroke="none"/>
<path d="M897.5 596 L897.4 625 M897.3 635.5 L896.9 658 M899.5 597 V600.8 H900.5 V604.5 M897.5 603.5 H900.5 M879.5 630.5 H889 M906 630.5 H918.5"/>
<path d="M895.6 658.5 L895.3 671.5 M897.4 658.5 L897.2 671.5"/>
<rect x="895" y="670.5" width="2" height="1.5" fill="#000" stroke="none"/>
</g>
<text class="nn" x="897.5" y="635.4" text-anchor="middle">N</text>
<text id="lt0" class="ax it" x="99.00" y="54" text-anchor="middle" textLength="23.49" lengthAdjust="spacingAndGlyphs">-86<tspan font-weight="bold">°</tspan></text>
<text id="lt1" class="ax it" x="263.50" y="54" text-anchor="middle" textLength="40.57" lengthAdjust="spacingAndGlyphs">-85<tspan font-weight="bold">°</tspan>30'</text>
<text id="lt2" class="ax it" x="428.00" y="54" text-anchor="middle" textLength="22.90" lengthAdjust="spacingAndGlyphs">-85<tspan font-weight="bold">°</tspan></text>
<text id="lt3" class="ax it" x="593.50" y="54" text-anchor="middle" textLength="40.57" lengthAdjust="spacingAndGlyphs">-84<tspan font-weight="bold">°</tspan>30'</text>
<text id="lt4" class="ax it" x="758.25" y="54" text-anchor="middle" textLength="23.29" lengthAdjust="spacingAndGlyphs">-84<tspan font-weight="bold">°</tspan></text>
<text id="lb0" class="ax it" x="103.75" y="595" text-anchor="middle" textLength="22.50" lengthAdjust="spacingAndGlyphs">-86<tspan font-weight="bold">°</tspan></text>
<text id="lb1" class="ax it" x="273.25" y="595" text-anchor="middle" textLength="40.19" lengthAdjust="spacingAndGlyphs">-85<tspan font-weight="bold">°</tspan>30'</text>
<text id="lb2" class="ax it" x="439.50" y="595" text-anchor="middle" textLength="22.94" lengthAdjust="spacingAndGlyphs">-85<tspan font-weight="bold">°</tspan></text>
<text id="lb3" class="ax it" x="607.75" y="595" text-anchor="middle" textLength="39.97" lengthAdjust="spacingAndGlyphs">-84<tspan font-weight="bold">°</tspan>30'</text>
<text id="lb4" class="ax it" x="775.50" y="595" text-anchor="middle" textLength="22.71" lengthAdjust="spacingAndGlyphs">-84<tspan font-weight="bold">°</tspan></text>
<text id="ll0" class="ax" transform="translate(51 120.25) rotate(-90)" text-anchor="middle" textLength="18.55" lengthAdjust="spacingAndGlyphs">38<tspan font-weight="bold">°</tspan></text>
<text id="ll1" class="ax" transform="translate(51 223.00) rotate(-90)" text-anchor="middle" textLength="35.20" lengthAdjust="spacingAndGlyphs">37<tspan font-weight="bold">°</tspan>45'</text>
<text id="ll2" class="ax" transform="translate(51 327.50) rotate(-90)" text-anchor="middle" textLength="36.87" lengthAdjust="spacingAndGlyphs">37<tspan font-weight="bold">°</tspan>30'</text>
<text id="ll3" class="ax" transform="translate(51 431.25) rotate(-90)" text-anchor="middle" textLength="36.04" lengthAdjust="spacingAndGlyphs">37<tspan font-weight="bold">°</tspan>15'</text>
<text id="ll4" class="ax" transform="translate(51 536.75) rotate(-90)" text-anchor="middle" textLength="18.72" lengthAdjust="spacingAndGlyphs">37<tspan font-weight="bold">°</tspan></text>
<text id="lr0" class="ax" transform="translate(824 102.75) rotate(90)" text-anchor="middle" textLength="18.72" lengthAdjust="spacingAndGlyphs">38<tspan font-weight="bold">°</tspan></text>
<text id="lr1" class="ax" transform="translate(824 208.25) rotate(90)" text-anchor="middle" textLength="35.22" lengthAdjust="spacingAndGlyphs">37<tspan font-weight="bold">°</tspan>45'</text>
<text id="lr2" class="ax" transform="translate(824 312.25) rotate(90)" text-anchor="middle" textLength="35.42" lengthAdjust="spacingAndGlyphs">37<tspan font-weight="bold">°</tspan>30'</text>
<text id="lr3" class="ax" transform="translate(824 417.25) rotate(90)" text-anchor="middle" textLength="35.42" lengthAdjust="spacingAndGlyphs">37<tspan font-weight="bold">°</tspan>15'</text>
<text id="lr4" class="ax" transform="translate(824 520.00) rotate(90)" text-anchor="middle" textLength="19.14" lengthAdjust="spacingAndGlyphs">37<tspan font-weight="bold">°</tspan></text>
<text class="lg" x="857.2" y="210.8">56225</text>
<text class="lg" x="857.2" y="225.8">56011</text>
<text class="lg" x="857.2" y="240.8">55886</text>
<text class="lg" x="857.2" y="255.8">55798</text>
<text class="lg" x="857.2" y="271.8">55727</text>
<text class="lg" x="857.2" y="286.8">55669</text>
<text class="lg" x="857.2" y="301.8">55621</text>
<text class="lg" x="857.2" y="316.8">55569</text>
<text class="lg" x="857.2" y="331.8">55518</text>
<text class="lg" x="857.2" y="346.8">55468</text>
<text class="lg" x="857.2" y="361.8">55404</text>
<text class="lg" x="857.2" y="377.8">55352</text>
<text class="lg" x="857.2" y="392.8">55295</text>
<text class="lg" x="857.2" y="407.8">55208</text>
<text class="lg" x="857.2" y="422.8">55079</text>
<text class="nt" x="882.5" y="447" text-anchor="middle">nT</text>
<text id="t1" class="t1" x="440.80" y="624.2" text-anchor="middle" textLength="307.96" lengthAdjust="spacingAndGlyphs">Winchester 1° x 2° Quadrangle, Kentucky</text>
<text id="t2" class="t2" x="440.65" y="647.2" text-anchor="middle" textLength="147.19" lengthAdjust="spacingAndGlyphs">Project 6120A, 07/79</text>
<text id="t3" class="t2" x="440.60" y="669.1" text-anchor="middle" textLength="146.79" lengthAdjust="spacingAndGlyphs">Total Field Magnetics</text>
</svg>
</body></html>
